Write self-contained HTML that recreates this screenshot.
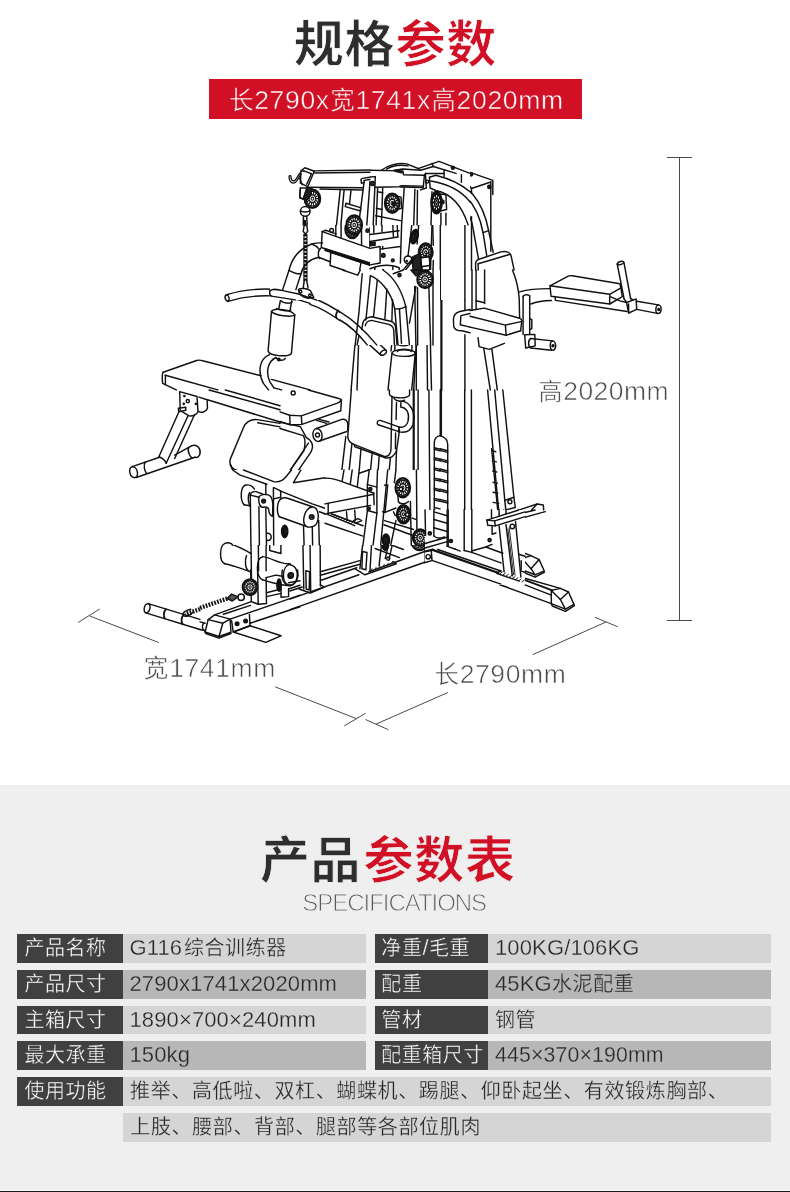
<!DOCTYPE html>
<html lang="zh"><head><meta charset="utf-8"><title>规格参数</title>
<style>
html,body{margin:0;padding:0}
body{width:790px;height:1192px;position:relative;overflow:hidden;background:#fff;font-family:"Liberation Sans",sans-serif}
.abs{position:absolute}
.gray{left:0;top:785px;width:790px;height:407px;background:#efefef}
.bar{left:209px;top:79px;width:373px;height:39.7px;background:#d11026}
.lab{background:#404040;height:28.8px}
.v1{background:#d5d5d5;height:28.8px}
.v2{background:#b7b7b7;height:28.8px}
.ct{display:block;color:transparent;font-size:14px;line-height:28px;padding-left:7px;white-space:nowrap;overflow:hidden}
.tx{position:absolute;color:transparent;white-space:nowrap;margin:0;line-height:1;overflow:hidden}
svg{position:absolute;left:0;top:0;will-change:transform}
svg text{font-family:"Liberation Sans","Noto Sans CJK SC",sans-serif}
</style></head><body>
<div class="abs gray"></div>
<div class="abs" style="left:0;top:1190px;width:790px;height:1px;background:#fafafa"></div>
<div class="abs" style="left:0;top:1191px;width:790px;height:1px;background:#1c1c1c"></div>
<div class="abs bar"></div>
<div class="table">
<div class="abs lab" style="left:17px;top:933.9px;width:106px"><span class="ct">产品名称</span></div><div class="abs v1" style="left:123px;top:933.9px;width:243px"><span class="ct">G116综合训练器</span></div><div class="abs lab" style="left:375px;top:933.9px;width:113px"><span class="ct">净重/毛重</span></div><div class="abs v1" style="left:488px;top:933.9px;width:283px"><span class="ct">100KG/106KG</span></div>
<div class="abs lab" style="left:17px;top:969.8px;width:106px"><span class="ct">产品尺寸</span></div><div class="abs v2" style="left:123px;top:969.8px;width:243px"><span class="ct">2790x1741x2020mm</span></div><div class="abs lab" style="left:375px;top:969.8px;width:113px"><span class="ct">配重</span></div><div class="abs v2" style="left:488px;top:969.8px;width:283px"><span class="ct">45KG水泥配重</span></div>
<div class="abs lab" style="left:17px;top:1005.5px;width:106px"><span class="ct">主箱尺寸</span></div><div class="abs v1" style="left:123px;top:1005.5px;width:243px"><span class="ct">1890×700×240mm</span></div><div class="abs lab" style="left:375px;top:1005.5px;width:113px"><span class="ct">管材</span></div><div class="abs v1" style="left:488px;top:1005.5px;width:283px"><span class="ct">钢管</span></div>
<div class="abs lab" style="left:17px;top:1041.2px;width:106px"><span class="ct">最大承重</span></div><div class="abs v2" style="left:123px;top:1041.2px;width:243px"><span class="ct">150kg</span></div><div class="abs lab" style="left:375px;top:1041.2px;width:113px"><span class="ct">配重箱尺寸</span></div><div class="abs v2" style="left:488px;top:1041.2px;width:283px"><span class="ct">445×370×190mm</span></div>
<div class="abs lab" style="left:17px;top:1077.1px;width:106px"><span class="ct">使用功能</span></div><div class="abs v1" style="left:123px;top:1077.1px;width:648px"><span class="ct">推举、高低啦、双杠、蝴蝶机、踢腿、仰卧起坐、有效锻炼胸部、</span></div>
<div class="abs v1" style="left:123px;top:1113.1px;width:648px"><span class="ct">上肢、腰部、背部、腿部等各部位肌肉</span></div>
</div>

<svg width="790" height="1192" viewBox="0 0 790 1192" fill="none" stroke="#111" stroke-width="1.45" stroke-linecap="round" stroke-linejoin="round">
<g stroke="#4a4a4a" stroke-width="1" stroke-linecap="butt"><path d="M667 157.5H692M667 620.5H692M679.5 157.5V620.5"/><path d="M78.3 622.4L99.7 609M89.8 616L158.9 642.6M275.3 686.9L356.8 718.8M344.3 725.9L365.5 713.3"/><path d="M365.5 719.5L388.3 729.7M376.2 724L447.9 692.5M532.8 654.6L606 622M595 617.3L617.8 626.8"/></g>
<!-- A1 -->
<path d="M 304.6 167.6 L 314.2 171.1 L 399.6 172.3"/>
<path d="M 304.6 167.6 L 300.8 170.9 L 299 182.4 L 307.3 186.1 L 314.2 171.1"/>
<path d="M 303.4 170.3 L 311.5 172.9 L 306.1 183.4"/>
<path d="M 300.8 170.9 L 303.4 170.3"/>
<path d="M 313.5 169.2 L 383.4 170.3 L 391.5 168.6"/>
<path d="M 309.5 187.7 L 399.6 188.9"/>
<path d="M 317 186.5 L 399.6 187.7"/>
<path stroke-width="1.6" d="M 289.4 176.3 C 288.6 180.4 290.3 184 293.3 182.4 C 295.9 180.4 298.4 177.3 300.4 174.7"/>
<path d="M 300.4 174.7 L 302.4 182.4"/>
<g transform="translate(312.5 199.6) rotate(0) scale(1 1.333)"><circle r="6.7" fill="#fff" stroke-width="2.1"/><circle r="5.3" stroke-width="1"/><path d="M2.8 0L5.3 0M2.5 1.2L4.8 2.3M1.8 2.2L3.3 4.2M0.6 2.7L1.2 5.2M-0.6 2.7L-1.2 5.2M-1.8 2.2L-3.3 4.2M-2.5 1.2L-4.8 2.3M-2.8 0L-5.3 0M-2.5 -1.2L-4.8 -2.3M-1.8 -2.2L-3.3 -4.2M-0.6 -2.7L-1.2 -5.2M0.6 -2.7L1.2 -5.2M1.8 -2.2L3.3 -4.2M2.5 -1.2L4.8 -2.3" stroke-width="1.05"/><circle r="2.8" fill="#fff" stroke-width="1.2"/><circle r="1.1" stroke-width="1"/></g>
<path d="M 302.4 184.4 L 300.4 196.6 L 304.4 199.6"/>
<path d="M 307.5 186.5 L 305.4 198.6"/>
<circle cx="304.8" cy="210.8" r="4.3" fill="#fff"/>
<path d="M 300.8 209.9 C 302.4 211.6 307.3 211.6 308.9 209.9"/>
<path d="M 303.6 215.2 L 303.6 219.9 M 306.1 215.2 L 306.1 219.9"/>
<path d="M 304.8 219.9 L 303 228 L 304.8 236.1 L 306.7 228 Z"/>
<path d="M 304.8 220.9 L 304.8 235.1"/>
<path stroke-width="2.2" d="M 304.8 236.1 L 304.8 240.1 M 305.6 241.1 L 305.6 245.2 M 304.8 246.2 L 304.8 250.3 M 305.6 251.3 L 305.6 255.3 M 304.8 256.3 L 304.8 260.4 M 305.6 261.4 L 305.6 265.4 M 304.8 266.5 L 304.8 269.9"/>
<path stroke-width="1.0" d="M 303.8 237.1 L 303.8 269.9 M 306.7 237.1 L 306.7 269.9"/>
<path d="M 339.9 189.5 L 335.4 236.1"/>
<path d="M 344.5 189.5 L 340.9 237.1"/>
<path d="M 348 189.5 L 345.3 228"/>
<path d="M 345.3 202.3 L 360.1 206.7 L 360.1 210.8 L 345.3 206.3 Z"/>
<path d="M 360.5 180.4 L 364.2 177.9 L 371.3 177.3 L 375.3 179.4"/>
<path d="M 360.5 180.4 L 358.5 244.2"/>
<path d="M 365.2 180.8 L 360.5 180.4"/>
<path d="M 365.2 180.8 L 375.3 179.4"/>
<path d="M 365.2 180.8 L 363.2 245.2"/>
<path d="M 370.7 183.4 L 368.2 240.1"/>
<circle cx="372.9" cy="184.4" r="1.8" fill="#333"/>
<circle cx="366.8" cy="231.4" r="1.6" fill="#333"/>
<g transform="translate(354.1 227) rotate(0) scale(1 1.455)"><circle r="6.7" fill="#fff" stroke-width="2.1"/><circle r="5.3" stroke-width="1"/><path d="M2.8 0L5.3 0M2.5 1.2L4.8 2.3M1.8 2.2L3.3 4.2M0.6 2.7L1.2 5.2M-0.6 2.7L-1.2 5.2M-1.8 2.2L-3.3 4.2M-2.5 1.2L-4.8 2.3M-2.8 0L-5.3 0M-2.5 -1.2L-4.8 -2.3M-1.8 -2.2L-3.3 -4.2M-0.6 -2.7L-1.2 -5.2M0.6 -2.7L1.2 -5.2M1.8 -2.2L3.3 -4.2M2.5 -1.2L4.8 -2.3" stroke-width="1.05"/><circle r="2.8" fill="#fff" stroke-width="1.2"/><circle r="1.1" stroke-width="1"/></g>
<path d="M 375.3 189.5 L 372.3 239.1"/>
<path d="M 380.4 189.5 L 376.9 235.1"/>
<path d="M 379.4 196.6 L 391.5 193.5"/>
<path d="M 375.3 216.8 L 399.6 209.7"/>
<path d="M 371.3 231 L 399.6 222.9"/>
<path d="M 369.2 237.1 L 399.6 230"/>
<path d="M 369.2 240.1 L 399.6 233.4"/>
<path d="M 399.6 219.9 L 399.6 235.1"/>
<path d="M 396.6 220.9 L 396.6 231"/>
<g transform="translate(392.1 203.7) rotate(0) scale(1 1.222)"><circle r="7.3" fill="#fff" stroke-width="2.1"/><circle r="5.8" stroke-width="1"/><path d="M3.1 0L5.8 0M2.8 1.3L5.3 2.5M1.9 2.4L3.6 4.6M0.7 3L1.3 5.7M-0.7 3L-1.3 5.7M-1.9 2.4L-3.6 4.6M-2.8 1.3L-5.3 2.5M-3.1 0L-5.8 0M-2.8 -1.3L-5.3 -2.5M-1.9 -2.4L-3.6 -4.6M-0.7 -3L-1.3 -5.7M0.7 -3L1.3 -5.7M1.9 -2.4L3.6 -4.6M2.8 -1.3L5.3 -2.5" stroke-width="1.05"/><circle r="3.1" fill="#fff" stroke-width="1.2"/><circle r="1.2" stroke-width="1"/></g>
<path d="M 391.5 193.5 L 401.6 195.6 L 399.6 210.8 L 391.5 213.8"/>
<circle cx="394.6" cy="203.7" r="1.4" fill="none"/>
<path d="M 402.7 189.5 L 399.6 269.9"/>
<path d="M 409.7 189.5 L 407.7 255.3"/>
<path d="M 414.8 189.5 L 411.8 253.3"/>
<path d="M 399.6 172.3 L 399.6 188.9"/>
<path d="M 399.6 188.9 L 425.9 190.1 L 425.9 174.3 L 399.6 172.3"/>
<path d="M 383.4 170.3 C 389.5 164.2 399.6 163.2 411.8 165.2"/>
<path d="M 391.5 168.6 L 401.6 170.3 L 411.8 168.6 L 419.9 170.3 L 430 164.6"/>
<path d="M 401.6 170.3 L 403.7 174.3 L 411.8 173.3"/>
<circle cx="427" cy="182" r="1.2" fill="none"/>
<path d="M 425.9 174.3 L 430 173.9 M 425.9 190.1 L 430 190.1"/>
<path d="M 323.1 230.6 L 328.7 228 L 336.8 235.1"/>
<path d="M 323.1 230.6 L 320.6 241.1 L 370.3 263.4 L 373.3 249.2 L 323.1 230.6"/>
<path d="M 373.3 249.2 L 381.4 246.2 L 383.4 241.1"/>
<path d="M 370.3 263.4 L 380.4 260.4 L 381.4 246.2"/>
<path d="M 328.7 228 L 358.5 239.1"/>
<circle cx="331.8" cy="230.6" r="2" fill="#fff"/>
<circle cx="372.3" cy="244.6" r="2" fill="#fff"/>
<circle cx="383.4" cy="255.3" r="1.8" fill="none"/>
<circle cx="392.5" cy="260.4" r="1.4" fill="#333"/>
<path d="M 380.4 260.4 L 395.6 265.4 L 399.6 255.3"/>
<path d="M 290.3 269.9 C 292.3 255.3 302.4 247.2 313.5 243.2 L 321.6 242.2"/>
<path d="M 311.5 269.9 C 311.5 259.4 315.6 251.3 323.1 249.2"/>
<path d="M 317.6 269.9 C 317.6 259.4 320.6 255.3 328.7 251.3"/>
<path d="M 323.1 249.2 L 330.8 252.3 L 330.8 263.4 L 365.2 269.9"/>
<path d="M 330.8 252.3 L 367.2 266.5"/>
<g transform="translate(424.9 252.3) rotate(0) scale(1 1.316)"><circle r="7.7" fill="#fff" stroke-width="2.1"/><circle r="6.2" stroke-width="1"/><path d="M3.2 0L6.2 0M2.9 1.4L5.5 2.7M2 2.5L3.8 4.8M0.7 3.2L1.4 6M-0.7 3.2L-1.4 6M-2 2.5L-3.8 4.8M-2.9 1.4L-5.5 2.7M-3.2 0L-6.2 0M-2.9 -1.4L-5.5 -2.7M-2 -2.5L-3.8 -4.8M-0.7 -3.2L-1.4 -6M0.7 -3.2L1.4 -6M2 -2.5L3.8 -4.8M2.9 -1.4L5.5 -2.7" stroke-width="1.05"/><circle r="3.2" fill="#fff" stroke-width="1.2"/><circle r="1.2" stroke-width="1"/></g>
<g transform="translate(414.8 237.1) rotate(0) scale(1 1.944)"><circle r="3.6" fill="#fff" stroke-width="2.1"/><circle r="2.9" stroke-width="1"/><path d="M1.5 0L2.9 0M1.2 0.9L2.4 1.7M0.5 1.5L0.9 2.8M-0.5 1.5L-0.9 2.8M-1.2 0.9L-2.4 1.7M-1.5 0L-2.9 0M-1.2 -0.9L-2.4 -1.7M-0.5 -1.5L-0.9 -2.8M0.5 -1.5L0.9 -2.8M1.2 -0.9L2.4 -1.7" stroke-width="1.05"/><circle r="1.5" fill="#fff" stroke-width="1.2"/><circle r="0.6" stroke-width="1"/></g>
<path d="M 409.7 269.9 L 419.9 255.3"/>
<path d="M 405.7 259.4 L 411.8 255.3 L 409.7 263.4 Z"/>
<path d="M 415.8 220.9 L 418.9 225.9 L 415.8 235.1"/>
<!-- A2 -->
<path d="M 430 164.6 L 438.1 161.1 L 492.8 180.4 L 492.8 194.6"/>
<path d="M 430 164.6 L 430 166.6 L 434.5 167.2"/>
<path d="M 434.5 167.2 L 445.2 172.7 L 461.4 175.3 L 471.5 188.5 L 490.8 182"/>
<path d="M 461.4 175.3 L 461.4 182.4"/>
<path d="M 471.5 188.5 L 471.5 193.5"/>
<circle cx="452.7" cy="167.8" r="1.6" fill="none"/>
<circle cx="471.1" cy="174.3" r="1.6" fill="none"/>
<circle cx="489.3" cy="186.9" r="1.6" fill="none"/>
<circle cx="452.7" cy="167.8" r="0.6" fill="#333"/>
<circle cx="471.1" cy="174.3" r="0.6" fill="#333"/>
<circle cx="489.3" cy="186.9" r="0.6" fill="#333"/>
<path d="M 490.8 182 L 490.8 251.3"/>
<path d="M 430 173.9 L 444.2 172.7"/>
<path stroke-width="2.0" d="M 430 171.9 L 442.2 170.3"/>
<path d="M 430 176.7 L 441.1 176.3 C 466.5 180.4 483.1 200.6 488.7 231 L 493.2 252.3"/>
<path d="M 432 180.8 C 460.4 184.4 477.6 202.7 483.1 233 L 486.7 255.3"/>
<path d="M 439.1 189.5 C 458.4 193.5 470.5 208.7 473.5 231 L 478.6 259.4"/>
<path d="M 430 182.4 L 439.1 189.5"/>
<path d="M 483.1 232.6 L 488.7 230.6"/>
<path d="M 464.4 203.7 L 464.4 269.9"/>
<path d="M 471.5 216.8 L 471.5 269.9"/>
<path d="M 440.1 210.8 L 440.1 269.9"/>
<path d="M 436.1 210.8 L 436.1 247.2"/>
<g transform="translate(436.5 201.6) rotate(0) scale(1 2.250)"><circle r="4.1" fill="#fff" stroke-width="2.1"/><circle r="3.2" stroke-width="1"/><path d="M1.7 0L3.2 0M1.4 1L2.6 1.9M0.5 1.6L1 3.1M-0.5 1.6L-1 3.1M-1.4 1L-2.6 1.9M-1.7 0L-3.2 0M-1.4 -1L-2.6 -1.9M-0.5 -1.6L-1 -3.1M0.5 -1.6L1 -3.1M1.4 -1L2.6 -1.9" stroke-width="1.05"/><circle r="1.7" fill="#fff" stroke-width="1.2"/><circle r="0.6" stroke-width="1"/></g>
<path d="M 439.1 195 L 448.2 196.6 L 447.2 209.1 L 439.1 211.2"/>
<circle cx="442.2" cy="202.3" r="1.8" fill="none"/>
<path d="M 475.6 269.9 L 475.6 263.4 C 475.6 260.4 477.6 259.4 480.6 258.8 L 500.9 251.9 C 507 250.9 510 252.3 511 255.3 L 514.1 269.9"/>
<path d="M 478.2 263.8 L 509.4 254.5"/>
<path d="M 478.2 263.8 L 478.2 269.9"/>
<path d="M 430 247.2 C 432 251.3 432 257.3 430 260.4"/>
<!-- B1 -->
<path d="M 226.6 294.7 C 241.1 290.3 257.3 288.6 271.5 289.2 C 287.7 290.3 299.9 292.3 310 295.9"/>
<path d="M 228 301.4 C 241.1 297.3 257.3 295.3 271.5 295.9 C 287.7 297.3 299.9 299.4 310 303.4"/>
<path d="M 226.6 294.7 C 223.9 296.3 224.9 300.4 228 301.4 C 230 300 229.4 295.9 226.6 294.7"/>
<path stroke-width="2.0" d="M 271.5 289.2 C 269.9 291.3 269.9 294.3 271.5 295.9"/>
<path d="M 289.7 270 L 283.1 289.2 M 281.2 296.7 L 278.8 308.5"/>
<path d="M 300.9 270 L 294.2 291.3 M 291.8 300.8 L 290.2 309.5"/>
<path d="M 280.6 300.4 C 283.7 303.4 289.7 304 292.2 302"/>
<path d="M 271.5 311.5 L 268.1 351 C 269.5 356.1 287.7 357.5 291.4 353.4 L 294.8 315"/>
<path d="M 271.5 311.5 C 273.5 307.5 291.8 309.5 294.8 315 C 291.8 317.6 274.6 315.6 271.5 311.5"/>
<path d="M 276.6 308.5 C 279.6 310.5 287.7 311.5 290.8 310.1"/>
<path d="M 276 357.5 C 277.6 361.1 283.7 361.1 285.3 358.3"/>
<circle cx="278.8" cy="359.5" r="1.2" fill="#333"/>
<path d="M 269.5 354.7 C 259.4 359.1 257.3 371.3 263.4 383.4 L 268.5 389.9"/>
<path d="M 276 357.5 C 267.1 361.5 265.8 373.3 269.9 381.8 L 273.9 387.9"/>
<path d="M 163.2 372.3 L 196.6 360.5 C 198.6 359.9 200.6 360.1 202.7 360.7 L 261 375.7"/>
<path d="M 163.2 372.3 C 161.7 373.7 162.2 377.3 162.6 383.4 L 176.3 389.9"/>
<path d="M 165.4 375.3 L 165.4 384.6"/>
<path d="M 165.4 375.3 L 217.8 389.9"/>
<path d="M 271.5 379.4 L 310 389.9"/>
<path d="M 273.9 387.9 L 281.6 389.9"/>
<path d="M 304.3 270 L 305.9 289.2"/>
<path d="M 307 270 L 308.6 289.2"/>
<circle cx="300.3" cy="291.3" r="1.6" fill="none"/>
<path d="M 301.9 289.2 L 310 292.3"/>
<path stroke-width="2.0" d="M 305.5 278.1 L 306.4 288.2"/>
<!-- B2 -->
<path d="M 310 297.3 C 334.3 304.4 360.6 326.7 385.9 350 C 388 352 383.9 356.1 380.9 355.1 C 378.9 353 382.9 349.4 385.9 350"/>
<path d="M 310 304.4 C 332.3 311.5 356.6 332.8 380.9 355.1"/>
<path stroke-width="1.8" d="M 338.4 310.5 C 335.9 312.5 335.3 316.2 336.7 318.2"/>
<circle cx="310" cy="295.3" r="2.4" fill="none"/>
<path d="M 360.6 275.1 L 357 319.6 M 355.6 336.8 L 351.1 389.9"/>
<path d="M 364.7 276.1 L 361.6 320.6"/>
<path d="M 370.8 277.7 L 366.7 317.8"/>
<path d="M 376.8 279.1 L 373.6 317"/>
<path d="M 388 287.2 L 386.6 318.6"/>
<path d="M 358.6 342.9 L 357 389.9"/>
<path d="M 361.6 328.7 C 361.6 321.6 363.7 317.6 368.7 317 L 390 319.6 C 394.1 320.6 396.1 323.1 396.1 328.7 L 394.7 350"/>
<path d="M 361.6 328.7 L 360.2 339.9"/>
<path d="M 365.7 329.1 C 365.7 324.3 367.7 322.3 370.8 321.8 L 389 324.3 C 392 325.1 393.4 327.1 393 331.8 L 391 351"/>
<path d="M 388 270 C 399.1 280.1 405.2 294.3 406.2 308.5 L 409.2 343.9"/>
<path d="M 375.2 270 L 379.9 276.1 C 389 284.2 394.1 296.3 395.1 308.5 L 399.1 344.9"/>
<path d="M 381.3 270 C 395.1 282.2 400.1 296.3 401.1 309.5"/>
<path d="M 395.1 308.5 C 399.1 310.5 403.2 310.1 406.2 308.5"/>
<path d="M 399.1 344.9 C 402.2 346.6 407.2 345.9 409.2 343.9"/>
<path d="M 358.6 270 L 358.6 274.5 L 374.8 279.1 L 375.2 270"/>
<path d="M 342.4 270 L 358.6 274.5"/>
<path d="M 392 353 C 393 348.6 413.7 348.6 415.3 353 C 414.3 357.5 394.1 357.5 392 353"/>
<path d="M 397.5 351.4 C 399.5 348.6 408.8 348.6 410.9 351.4"/>
<path d="M 392 353 L 388 389.9"/>
<path d="M 415.3 353 L 411.7 389.9"/>
<path d="M 416.3 289.2 L 416.3 389.9"/>
<path d="M 412.9 276.1 L 411.9 351"/>
<path d="M 429.1 288.2 L 431.5 389.9"/>
<path stroke-width="2.2" d="M 441.4 270 L 441.4 389.9"/>
<path d="M 464.9 270 L 464.9 309.5 M 464.9 334.8 L 464.9 389.9"/>
<path d="M 410.7 290.3 L 408.8 336.8"/>
<path d="M 415.3 289.2 L 406.8 337.8"/>
<path d="M 419.4 289.2 L 413.7 389.9"/>
<path d="M 426.5 289.2 L 427.5 389.9"/>
<g transform="translate(423.8 279.7) rotate(0) scale(1 1.167)"><circle r="7.3" fill="#fff" stroke-width="2.1"/><circle r="5.8" stroke-width="1"/><path d="M3.1 0L5.8 0M2.8 1.3L5.3 2.5M1.9 2.4L3.6 4.6M0.7 3L1.3 5.7M-0.7 3L-1.3 5.7M-1.9 2.4L-3.6 4.6M-2.8 1.3L-5.3 2.5M-3.1 0L-5.8 0M-2.8 -1.3L-5.3 -2.5M-1.9 -2.4L-3.6 -4.6M-0.7 -3L-1.3 -5.7M0.7 -3L1.3 -5.7M1.9 -2.4L3.6 -4.6M2.8 -1.3L5.3 -2.5" stroke-width="1.05"/><circle r="3.1" fill="#fff" stroke-width="1.2"/><circle r="1.2" stroke-width="1"/></g>
<path d="M 415.3 270 L 415.3 282.2 L 423.4 290.3 L 431.5 284.2 L 431.5 270"/>
<circle cx="400.1" cy="275.1" r="2" fill="none"/>
<path d="M 391 270 L 403.2 278.1 L 407.2 270"/>
<path d="M 470 309.5 L 459.9 311.5 C 454.8 312.9 453.4 315.6 453.4 319.6 L 453.8 326.7 C 454.8 329.7 457.8 330.8 461.9 330.8 L 470 332.8"/>
<path d="M 470 313.5 L 460.9 315.6 L 460.3 324.7 L 470 327.1"/>
<!-- B3 -->
<path d="M 472 270 L 472 310.5"/>
<path d="M 476.1 270 L 476.1 309.5"/>
<path d="M 484.6 270 L 484.6 303.4"/>
<path d="M 476.1 300.8 L 484.6 302.8"/>
<path d="M 512.5 270 C 516.6 280.1 518.6 290.3 519.2 298.4 L 519.6 317.8"/>
<path d="M 470 310.5 L 484.2 308.1 L 519.6 318.2 C 521.6 319 522.3 320.6 521.6 322.7 L 520.6 330.8"/>
<path d="M 470 316.2 L 505.4 325.1 L 521 321.6"/>
<path d="M 505.4 325.1 L 506.1 335.2"/>
<path d="M 470 327.1 L 506.1 335.2 L 520.6 330.8"/>
<path d="M 478.1 337.8 L 479.1 346.6 L 489.2 349.4 L 504.4 343.3"/>
<path d="M 483.8 348.6 L 490.3 389.9"/>
<path d="M 491.9 349.4 L 497.3 389.9"/>
<path d="M 519.6 291.9 C 528.7 289.2 538.9 288.6 550 288.6"/>
<path d="M 530.8 304 C 536.8 301.4 544.9 300.4 551.4 300.4"/>
<path d="M 523.1 296.3 L 523.1 334.4 M 529.7 295.9 L 529.7 334.4"/>
<path d="M 523.1 296.3 C 524.3 294.3 528.7 294.3 529.7 295.9"/>
<path d="M 529.7 318.6 L 531.8 319.6 L 531.8 328.7 L 529.7 329.7"/>
<path d="M 524.7 334.8 L 534.8 334.4 L 535.2 345.9 L 525.7 348 Z"/>
<path d="M 530.8 338.5 L 552.6 340.9 M 530.8 348 L 551.4 350.2"/>
<path d="M 530.8 338.5 C 527.9 339.9 527.9 346.6 530.8 348"/>
<path d="M 552.6 340.9 C 556.1 341.3 557.1 349 553 350.2 C 549.4 349.8 549.4 341.9 552.6 340.9"/>
<circle cx="553" cy="345.7" r="1" fill="#333"/>
<path d="M 550 285.8 L 568.2 276.1 C 569.2 275.5 570.3 275.5 572.3 275.7 L 619.9 283.8 L 620.9 287.8 L 609.7 294.3 L 550 285.8"/>
<path d="M 550 285.8 L 551 296.3 L 609.7 304 L 609.7 294.3"/>
<path d="M 609.7 304 L 622.3 296.7 L 620.9 287.8"/>
<path d="M 555.1 297.3 L 555.5 300.4 L 627 311.5"/>
<!-- B4 -->
<path d="M 617.2 264 L 624.1 298.9"/>
<path d="M 623.9 262.4 L 630.6 298.5"/>
<path d="M 617.2 264 C 617.8 261.4 622.9 260.4 623.9 262.4 C 623.3 264.4 618.5 265.4 617.2 264"/>
<path d="M 626.6 302.5 L 636.1 298.9 L 636.7 309.4 L 628.6 313 Z"/>
<path d="M 628.6 303.9 L 628.6 313"/>
<path d="M 636.7 301.3 L 658.4 304.9 M 636.7 309.4 L 657.3 313.4"/>
<path d="M 658.4 304.9 C 661.8 305.3 662.4 313 657.9 313.6 C 654.9 313 655.3 305.3 658.4 304.9"/>
<circle cx="658.8" cy="309.4" r="1" fill="#333"/>
<path d="M 624.1 298.9 L 626.6 302.5 M 630.6 298.5 L 633 299.9"/>
<path d="M 610.8 296.8 L 619.9 300.9 L 626.6 302.5"/>
<!-- C1 -->
<path d="M 209.1 390 L 280 409.8"/>
<path d="M 225.3 390 L 280 405.8"/>
<path d="M 207.5 399.7 L 280 422"/>
<path d="M 179.7 391.6 L 197 396.5 L 198 411.9 C 195.9 415.3 191.9 416.3 188.9 415.9 L 180.2 410.3 Z"/>
<circle cx="187.8" cy="401.1" r="1.6" fill="none"/>
<circle cx="183.8" cy="403.8" r="0.6" fill="#333"/>
<circle cx="195.9" cy="403.8" r="0.6" fill="#333"/>
<circle cx="184.4" cy="396.1" r="0.6" fill="#333"/>
<path d="M 199 397.1 L 207.1 399.7 L 207.5 408.2 C 206.1 412.3 201 413.3 198.6 411.3"/>
<path d="M 178.3 408.2 L 185.8 407.2 L 185.8 410.3 L 178.7 411.9 Z"/>
<path d="M 178.7 412.3 L 158.9 456.8"/>
<path d="M 187.8 416.3 L 166.2 463.3"/>
<path d="M 194.5 414.7 L 174.7 458.5"/>
<path d="M 158.9 456.8 C 161.5 457.8 165 459.9 166.2 463.3"/>
<path d="M 132.2 466.6 L 159.5 457.2"/>
<path d="M 174.7 455.2 L 191.9 445.7"/>
<path d="M 136.2 477.5 L 194.9 457.2"/>
<path d="M 132.2 466.6 C 128.1 468 129.1 477.1 134.6 477.7 C 139.2 476.7 138.2 467 132.2 466.6"/>
<path d="M 191.9 445.7 C 197 443.7 201 448.7 200 453.8 C 199 457.8 195.9 457.8 194.9 457.2"/>
<path d="M 145.3 461.9 C 143.3 464.9 144.3 471 146.7 473.6"/>
<path d="M 188.9 447.3 C 186.8 450.8 189.9 456.8 192.3 458.1"/>
<path d="M 280 423.4 L 255.7 419.4 C 249.6 419.4 245.6 422.4 243.5 427.5 L 230.4 458.9 C 229 463.9 230.4 467 234.4 469.4 L 272.9 483.6 L 280 482.2"/>
<path d="M 231 465.3 C 231.4 470 233.4 472 237.5 473.4 L 272.9 487.2 L 272.9 483.6"/>
<path d="M 272.9 487.2 L 280 486.2"/>
<path d="M 280 426.9 L 257.7 422.8"/>
<path d="M 249.6 485.2 C 243.5 487.2 239.5 495.3 241.5 503.4 L 243.5 509.9"/>
<path d="M 254.1 486.4 C 248.6 489.2 246.6 497.3 249 505.8"/>
<path d="M 251.6 493.3 L 259.7 490.3 L 274.3 495.3 L 274.3 509.9"/>
<path d="M 251.6 493.3 L 251.6 509.9"/>
<circle cx="263.8" cy="501.4" r="1.6" fill="none"/>
<path d="M 265.8 484.8 L 265.8 491.3"/>
<path d="M 274.3 487.6 L 274.3 495.3"/>
<path stroke-width="2.2" d="M 261.8 497.3 C 257.7 499.4 259.7 507.5 265.8 505.8 L 269.9 509.9"/>
<path d="M 259.7 490.3 L 259.7 509.9"/>
<!-- C2 -->
<path d="M 280 411.9 L 289.7 415.3 L 301.3 415.9 L 338.7 402.6 L 341.4 400.1"/>
<path d="M 289.7 415.3 L 290.1 424.8 L 301.9 424.4 L 340.8 410.7 L 341.4 400.1"/>
<path d="M 301.3 415.9 L 301.9 424.4"/>
<path d="M 280 421.4 L 290.1 424.8"/>
<path d="M 308.4 390 L 338.7 398.5 C 340.8 398.9 341.6 399.7 341.4 400.1"/>
<circle cx="293.2" cy="393" r="2" fill="none"/>
<path d="M 316.5 428.5 L 341.8 419.4 C 345.8 418.8 347.8 421.4 347.8 424.4 L 347.8 430.5"/>
<path d="M 319.5 441 L 346.8 431.5"/>
<path d="M 316.5 428.5 C 311.4 429.5 311.4 440.6 318.5 441.6 C 323.5 440.6 323.5 429.5 316.5 428.5"/>
<circle cx="317.5" cy="435" r="2" fill="none"/>
<path d="M 316.5 420.4 L 326.6 423.4 M 318.9 419.4 L 329 422"/>
<path d="M 280 422.4 L 300.3 426.5 L 306.3 437.6 C 312.4 440.6 314.4 446.7 310.4 452.8 L 288.1 485.2 L 280 491.3"/>
<path d="M 280 428.5 L 303.3 435.6 C 305.3 438.6 305.3 444.7 303.9 450.8 L 283 480.1 L 280 481.5"/>
<path d="M 308.4 443.1 L 286.1 476.7"/>
<path d="M 280 489.6 L 292.2 482.4 L 327.6 478.1 L 372.2 492.9 L 373.6 497.3 L 329.6 503.8 L 282 490.9"/>
<path d="M 329.6 503.8 L 329 509.9"/>
<path d="M 280 498.4 L 310.4 507.5"/>
<path d="M 373.6 497.3 L 372.8 509.9"/>
<path d="M 351.3 390 L 347.8 436.2 C 347.8 440.6 349.9 442.7 353.9 444.3 L 384.3 456.4 C 388.4 457.2 391 453.8 391 448.7 L 392 396.1"/>
<path d="M 385.3 457.8 C 391.4 458.9 394.4 455.8 396.5 450.8 L 399.5 430.5"/>
<path d="M 353.9 444.3 L 354.9 446.7 L 385.3 457.8"/>
<path d="M 401.5 401.1 C 411.6 402.2 416.1 414.3 413.1 424.4 C 411 430.5 405.6 432.9 399.5 431.9 L 378.2 424.8 C 376.4 423.4 377.2 420 380.3 420.4 L 399.5 427.1 C 403.5 427.5 406.6 426.5 408 421.4 C 409.6 414.3 407.6 408.2 401.5 407.2"/>
<path stroke-width="1.8" d="M 399.1 427.1 L 398.7 431.9"/>
<path d="M 389.4 390 L 389.4 394.1 C 390.4 398.5 406.6 399.3 409.6 395.1 L 409.6 390"/>
<path d="M 393.8 398.1 C 395.8 401.3 401.5 402.2 404.6 400.1"/>
<path d="M 396.5 402.6 L 396.1 419.4 M 395.6 432.9 L 395.4 448.7"/>
<path d="M 400.9 402.6 L 400.7 407"/>
<path d="M 345.8 436.6 L 340.8 479.1"/>
<path d="M 351.9 443.7 L 347.8 483.2"/>
<path d="M 361 448.7 L 358 485.2"/>
<path d="M 372.2 452.8 L 369.1 485.2"/>
<path d="M 379.2 455.8 L 375.2 509.9"/>
<path d="M 390.4 457.8 L 385.3 509.9"/>
<path d="M 358 475.1 L 369.1 470"/>
<path stroke-width="2.2" d="M 413.7 390 L 413.7 509.9"/>
<path d="M 418.1 390 L 418.1 509.9"/>
<path d="M 428.9 390 L 429.9 509.9"/>
<path d="M 396.5 450.8 L 394.4 509.9"/>
<path d="M 440 435.6 C 435.9 436.6 434.3 438.6 434.3 442.7 L 434.3 509.9"/>
<path d="M 434.3 447.7 L 440 449.1 M 434.3 457.8 L 440 459.3 M 434.3 468 L 440 469.4 M 434.3 478.1 L 440 479.5 M 434.3 488.2 L 440 489.6 M 434.3 498.4 L 440 499.8 M 434.3 507.5 L 440 508.9"/>
<path d="M 434.3 449.3 L 440 450.8 M 434.3 459.5 L 440 460.9 M 434.3 469.6 L 440 471 M 434.3 479.7 L 440 481.1 M 434.3 489.8 L 440 491.3 M 434.3 500 L 440 501.4"/>
<g transform="translate(403.5 488.2) rotate(0) scale(1 1.111)"><circle r="7.3" fill="#fff" stroke-width="2.1"/><circle r="5.8" stroke-width="1"/><path d="M3.1 0L5.8 0M2.8 1.3L5.3 2.5M1.9 2.4L3.6 4.6M0.7 3L1.3 5.7M-0.7 3L-1.3 5.7M-1.9 2.4L-3.6 4.6M-2.8 1.3L-5.3 2.5M-3.1 0L-5.8 0M-2.8 -1.3L-5.3 -2.5M-1.9 -2.4L-3.6 -4.6M-0.7 -3L-1.3 -5.7M0.7 -3L1.3 -5.7M1.9 -2.4L3.6 -4.6M2.8 -1.3L5.3 -2.5" stroke-width="1.05"/><circle r="3.1" fill="#fff" stroke-width="1.2"/><circle r="1.2" stroke-width="1"/></g>
<path d="M 396.5 491.3 L 398.5 501 L 409.6 503.8 L 411.6 491.3"/>
<circle cx="370.1" cy="488.6" r="1.6" fill="none"/>
<path d="M 367.1 485.2 L 377.2 487.2 L 376.2 509.9"/>
<!-- C3 -->
<path d="M 440 435.6 C 445.1 437 447.7 439.6 447.7 444.7 L 447.7 509.9"/>
<path d="M 440 448.7 L 447.7 450.8 M 440 458.9 L 447.7 460.9 M 440 469 L 447.7 471 M 440 479.1 L 447.7 481.1 M 440 489.2 L 447.7 491.3 M 440 499.4 L 447.7 501.4"/>
<path d="M 440 450.4 L 447.7 452.4 M 440 460.5 L 447.7 462.5 M 440 470.6 L 447.7 472.6 M 440 480.7 L 447.7 482.8 M 440 490.9 L 447.7 492.9 M 440 501 L 447.7 503"/>
<path stroke-width="2.5" d="M 440.8 390 L 440.8 435.6"/>
<path d="M 464.7 390 L 464.7 509.9"/>
<path d="M 471.4 390 L 471.4 509.9"/>
<path d="M 487.6 390 L 497.7 500.4"/>
<path d="M 494.7 390 L 504.8 500.4"/>
<path d="M 502.8 390 L 513.9 497.3"/>
<path d="M 491.6 448.7 L 497.7 509.9"/>
<path d="M 492.3 450.8 L 495.7 451.8 M 492.3 460.9 L 496.3 461.9 M 492.7 471 L 496.7 472 M 493.1 482.2 L 497.3 483.2 M 493.1 492.3 L 497.7 493.3 M 493.1 502.4 L 498.7 503.4"/>
<path d="M 504.8 500.4 L 513.9 497.3 L 515.3 507.5 L 505.8 509.9"/>
<path d="M 504.8 500.4 L 505.8 509.9"/>
<circle cx="509.9" cy="501.8" r="2" fill="none"/>
<path d="M 519.4 509.9 L 537.2 504 L 543.3 505 L 543.7 509.9"/>
<path d="M 537.2 504 L 531.5 509.9"/>
<path d="M 497.7 500.4 L 498.7 509.9"/>
<!-- D1 -->
<path d="M 250.5 510 L 251.5 580.9"/>
<path d="M 258 510 L 258.6 570.8"/>
<path d="M 266.1 510 L 266.1 570.8"/>
<path d="M 225.2 543.4 C 235.3 543.4 243.4 549.5 250.9 553.5"/>
<path d="M 224.8 563.7 C 235.3 565.7 243.4 569.7 250.9 571.8"/>
<path d="M 225.2 543.4 C 219.1 545.4 219.1 561.6 224.8 563.7"/>
<path d="M 246.5 555.6 C 244.4 560.6 245.4 568.7 248.5 570.8"/>
<path d="M 262.7 556.6 C 255.6 558.6 255.6 576.8 262.7 579.9"/>
<path d="M 262.7 556.6 C 271.8 557.6 279.9 564.7 290 563.7"/>
<path d="M 262.7 579.9 C 271.8 582.9 279.9 584.9 290 585.9"/>
<path d="M 290 564.3 C 281.9 565.7 280.9 582.9 289 585.3"/>
<path d="M 148.2 603.6 L 199.9 619.4"/>
<path d="M 145.8 612.9 L 199.9 629.5"/>
<path d="M 148.2 603.6 C 143.2 604.2 143.2 612.3 146.2 612.9 C 150.3 612.3 151.3 604.8 148.2 603.6"/>
<path stroke-width="1.8" d="M 166.1 609.2 C 163.4 611.3 163.4 616.3 164.8 618.4"/>
<path stroke-width="1.8" d="M 183.7 614.9 C 181 617.3 181 622.4 182.7 624.4"/>
<path stroke-width="4.4" stroke-dasharray="1.7 1.3" stroke-linecap="butt" d="M 199.9 609.2 L 185.1 614.3"/>
<path d="M 190.8 609.2 C 184.7 610.3 181.6 613.3 183.7 615.7 C 185.7 617.3 190.8 615.3 192.8 612.3"/>
<path d="M 266.1 510 L 266.1 536.3 C 267.7 540.4 271.8 540.4 272.8 536.3 L 272.8 510"/>
<path d="M 269.7 540.4 L 269.7 550.5 L 280.9 553.5 L 280.9 540.4"/>
<g transform="translate(285.5 532.3) rotate(0) scale(1 1.500)"><circle r="4.1" fill="#fff" stroke-width="2.1"/><circle r="3.2" stroke-width="1"/><path d="M1.7 0L3.2 0M1.4 1L2.6 1.9M0.5 1.6L1 3.1M-0.5 1.6L-1 3.1M-1.4 1L-2.6 1.9M-1.7 0L-3.2 0M-1.4 -1L-2.6 -1.9M-0.5 -1.6L-1 -3.1M0.5 -1.6L1 -3.1M1.4 -1L2.6 -1.9" stroke-width="1.05"/><circle r="1.7" fill="#fff" stroke-width="1.2"/><circle r="0.6" stroke-width="1"/></g>
<path d="M 276.8 510 C 277.8 516.1 283.9 519.1 290 518.1"/>
<path d="M 274.2 510 L 274.2 534.3"/>
<!-- D1b -->
<path d="M 208.2 619.6 L 214.6 614.9 L 230.1 619.1 L 222.8 623.2 Z"/>
<path d="M 208.2 619.6 L 205.1 632 L 219 636.5 L 222.8 623.2"/>
<path d="M 219 636.5 L 231 632.3 L 230.1 619.1"/>
<path d="M 205.1 632 L 205.7 633.5 L 219 638 L 231 633.5"/>
<path d="M 203.8 623.2 C 201.9 624.4 201.9 629.5 204.4 630.5"/>
<path d="M 200 621.9 L 205.1 623.2"/>
<path d="M 200 629.5 L 204.4 630.5"/>
<path d="M 214.6 614.9 L 251.3 601.6"/>
<path d="M 230.1 619.1 L 300 595.1"/>
<path d="M 223.4 614.3 L 250.6 605.4"/>
<path d="M 231.6 620.6 L 233.2 632 L 250 625.7 L 249.4 614.6"/>
<circle cx="237.1" cy="623.8" r="1.8" fill="none"/>
<circle cx="245.6" cy="620.9" r="1.8" fill="none"/>
<circle cx="237.1" cy="623.8" r="0.8" fill="none"/>
<circle cx="245.6" cy="620.9" r="0.8" fill="none"/>
<path d="M 250 623.2 L 300 606.7"/>
<path d="M 233.2 632 L 250 625.7 L 281 635.8 L 265.8 642.4 Z"/>
<path d="M 257.6 570 L 258.2 604.2 L 266.5 603.5 L 266.1 577.6"/>
<path d="M 250.6 570 L 251.3 601.6 L 258.2 604.2"/>
<g transform="translate(250 587.1) rotate(0) scale(1 1.069)"><circle r="7.3" fill="#fff" stroke-width="2.1"/><circle r="5.9" stroke-width="1"/><path d="M3.1 0L5.9 0M2.8 1.3L5.3 2.5M1.9 2.4L3.7 4.6M0.7 3L1.3 5.7M-0.7 3L-1.3 5.7M-1.9 2.4L-3.7 4.6M-2.8 1.3L-5.3 2.5M-3.1 0L-5.9 0M-2.8 -1.3L-5.3 -2.5M-1.9 -2.4L-3.7 -4.6M-0.7 -3L-1.3 -5.7M0.7 -3L1.3 -5.7M1.9 -2.4L3.7 -4.6M2.8 -1.3L5.3 -2.5" stroke-width="1.05"/><circle r="3.1" fill="#fff" stroke-width="1.2"/><circle r="1.2" stroke-width="1"/></g>
<circle cx="241.1" cy="597.2" r="3.2" fill="#fff"/>
<path fill="#555" d="M 238 596.8 L 231.6 594.1 L 227.2 598.5 L 232.3 601 Z"/>
<path stroke-width="4.4" stroke-dasharray="1.7 1.3" stroke-linecap="butt" d="M 227.2 598.5 L 200 608"/>
<path d="M 282.3 570 C 281 575.1 282.3 582.7 287.3 585.2 C 293.7 585.8 297.5 581.4 298.1 575.1 L 297.5 570"/>
<circle cx="290.5" cy="575.7" r="2.5" fill="none"/>
<circle cx="290.5" cy="575.7" r="1" fill="none"/>
<path d="M 281 589 L 281 597.2 L 288.6 596.6 L 288.6 589"/>
<g transform="translate(279.1 585.2) rotate(0) scale(1 2.333)"><circle r="1.9" fill="#fff" stroke-width="2.1"/><circle r="1.5" stroke-width="1"/><path d="M0.8 0L1.5 0M0.6 0.5L1.2 0.9M0.2 0.8L0.5 1.4M-0.2 0.8L-0.5 1.4M-0.6 0.5L-1.2 0.9M-0.8 0L-1.5 0M-0.6 -0.5L-1.2 -0.9M-0.2 -0.8L-0.5 -1.4M0.2 -0.8L0.5 -1.4M0.6 -0.5L1.2 -0.9" stroke-width="1.05"/><circle r="0.8" fill="#fff" stroke-width="1.2"/><circle r="0.3" stroke-width="1"/></g>
<path d="M 266.5 592.8 L 281 589"/>
<path d="M 266.5 596.6 L 281 593.4"/>
<path d="M 288.6 589 L 300 585.2"/>
<path d="M 288.6 582.7 L 300 580.8"/>
<path d="M 266.1 577.6 L 275.9 575.1 L 282.3 576.3"/>
<!-- D2 -->
<path d="M 290 609.6 L 424.7 562.3"/>
<path d="M 290 599.1 L 358.9 574.8 M 369 571.8 L 424.7 551.5"/>
<path d="M 290 591 L 302.2 587 M 320.4 580.5 L 356.8 567.7"/>
<path d="M 320.4 571.8 L 359.9 560.6"/>
<path d="M 320.4 575.2 L 359.9 564.3"/>
<path d="M 302.6 526.2 L 303.8 589"/>
<path d="M 309.8 528.2 L 310.7 591"/>
<path d="M 320 520.1 L 320.4 585.9"/>
<path d="M 299.1 589 L 310.3 593 L 324.4 587 L 320.4 584.9"/>
<path d="M 305.8 570.8 L 306.2 589 L 309.2 590 L 309.6 571.8 Z"/>
<circle cx="311.3" cy="516.1" r="8.5" fill="#fff"/>
<circle cx="311.9" cy="516.5" r="2.4" fill="none"/>
<path d="M 320.4 519.1 L 364.9 535.3"/>
<path d="M 329.5 514.5 L 367 527.2"/>
<path d="M 320.4 523.2 L 363.9 539.4"/>
<path stroke-width="0.8" d="M 332.5 516.1 L 331.5 519.1 M 335.6 517.1 L 334.6 520.1 M 338.6 518.1 L 337.6 521.1 M 341.6 519.1 L 340.6 522.2 M 344.7 520.1 L 343.7 523.2 M 347.7 521.1 L 346.7 524.2 M 350.8 522.2 L 349.7 525.2 M 353.8 523.2 L 352.8 526.2"/>
<path d="M 379.1 540.4 L 403.4 549.5"/>
<path d="M 391.3 528.2 L 411.5 536.3"/>
<path d="M 375.1 548.5 L 399.4 557.6"/>
<path d="M 366.6 510 L 359.9 568.7"/>
<path d="M 373.4 512 L 370 570.8"/>
<path d="M 385.2 511 L 379.1 565.7"/>
<path d="M 354.8 568.7 L 364.9 574.8 L 396.3 563.7 L 392.9 561.6"/>
<path stroke-width="0.8" d="M 371 570.8 L 372 568.7 M 375.1 569.3 L 376.1 567.3 M 379.1 567.9 L 380.1 565.9 M 383.2 566.5 L 384.2 564.5 M 387.2 565.1 L 388.2 563.1 M 391.3 563.7 L 392.3 561.6"/>
<path d="M 362.5 551.5 L 361.9 568.7 L 365.9 569.7 L 367 552.5 Z"/>
<g transform="translate(385.2 541.4) rotate(0) scale(1 2.111)"><circle r="3.6" fill="#fff" stroke-width="2.1"/><circle r="2.9" stroke-width="1"/><path d="M1.5 0L2.9 0M1.2 0.9L2.4 1.7M0.5 1.5L0.9 2.8M-0.5 1.5L-0.9 2.8M-1.2 0.9L-2.4 1.7M-1.5 0L-2.9 0M-1.2 -0.9L-2.4 -1.7M-0.5 -1.5L-0.9 -2.8M0.5 -1.5L0.9 -2.8M1.2 -0.9L2.4 -1.7" stroke-width="1.05"/><circle r="1.5" fill="#fff" stroke-width="1.2"/><circle r="0.6" stroke-width="1"/></g>
<path d="M 395.3 516.1 L 385.2 558.6"/>
<path d="M 398.4 517.1 L 389.2 558.6"/>
<circle cx="388.2" cy="558.6" r="1.6" fill="none"/>
<g transform="translate(402.4 515.7) rotate(0) scale(1 1.143)"><circle r="7.1" fill="#fff" stroke-width="2.1"/><circle r="5.7" stroke-width="1"/><path d="M3 0L5.7 0M2.7 1.3L5.1 2.5M1.9 2.3L3.5 4.4M0.7 2.9L1.3 5.5M-0.7 2.9L-1.3 5.5M-1.9 2.3L-3.5 4.4M-2.7 1.3L-5.1 2.5M-3 0L-5.7 0M-2.7 -1.3L-5.1 -2.5M-1.9 -2.3L-3.5 -4.4M-0.7 -2.9L-1.3 -5.5M0.7 -2.9L1.3 -5.5M1.9 -2.3L3.5 -4.4M2.7 -1.3L5.1 -2.5" stroke-width="1.05"/><circle r="3" fill="#fff" stroke-width="1.2"/><circle r="1.1" stroke-width="1"/></g>
<g transform="translate(419.6 540.4) rotate(0) scale(1 1.143)"><circle r="8.5" fill="#fff" stroke-width="2.1"/><circle r="6.8" stroke-width="1"/><path d="M3.6 0L6.8 0M3.2 1.6L6.1 3M2.2 2.8L4.2 5.3M0.8 3.5L1.5 6.6M-0.8 3.5L-1.5 6.6M-2.2 2.8L-4.2 5.3M-3.2 1.6L-6.1 3M-3.6 0L-6.8 0M-3.2 -1.6L-6.1 -3M-2.2 -2.8L-4.2 -5.3M-0.8 -3.5L-1.5 -6.6M0.8 -3.5L1.5 -6.6M2.2 -2.8L4.2 -5.3M3.2 -1.6L6.1 -3" stroke-width="1.05"/><circle r="3.6" fill="#fff" stroke-width="1.2"/><circle r="1.4" stroke-width="1"/></g>
<path d="M 413.5 510 L 414.6 532.3"/>
<path d="M 424.7 510 L 425.3 562.7"/>
<path d="M 434.8 510 L 434.8 536.3"/>
<path d="M 424.7 551.5 L 445.9 538.4 L 447 543.4 L 431.8 550.5 L 431.8 561.6 L 425.3 563.1"/>
<circle cx="428.3" cy="557" r="2" fill="none"/>
<path d="M 431.8 550.5 L 450 553.5"/>
<path d="M 447 543.4 L 450 544"/>
<path d="M 434.8 514.1 L 450 518.1 M 434.8 520.1 L 450 524.2 M 434.8 526.2 L 450 530.3"/>
<circle cx="429.7" cy="533.9" r="1.4" fill="none"/>
<path d="M 290 564.7 C 296.1 565.7 299.1 572.8 296.1 580.9 C 294.1 584.9 291 585.9 290 585.3"/>
<circle cx="291" cy="575.2" r="2.4" fill="none"/>
<!-- D3 -->
<path d="M 464.2 510 L 464.2 551.5"/>
<path d="M 471.9 510 L 471.9 552.5"/>
<path d="M 464.2 551.5 L 471.9 552.9"/>
<path d="M 486.5 519.7 L 498.6 519.1 L 499 524.6 L 486.9 525.4 Z"/>
<path d="M 486.5 519.7 L 520.9 510"/>
<path d="M 498.6 519.1 L 535.1 510"/>
<path d="M 499 524.6 L 545.2 511.6"/>
<path d="M 499.6 527.2 L 504.7 572.8"/>
<path d="M 506.3 525.8 L 511.8 576.8"/>
<path d="M 516.8 522.2 L 519.9 574.8"/>
<circle cx="512.4" cy="525.8" r="2.4" fill="none"/>
<path d="M 506.3 525.8 C 507.7 521.1 515.8 520.1 516.8 522.2"/>
<path stroke-width="0.9" d="M 507.7 530.3 L 510.8 570.8 M 509.1 528.2 L 513.2 572.8"/>
<path d="M 496.6 573.8 L 518.9 581.9 L 522.9 578.9 L 519.9 574.8"/>
<path stroke-width="0.8" d="M 500.6 574.4 L 502.3 572.4 M 503.7 575.6 L 505.3 573.6 M 506.7 576.8 L 508.3 574.8 M 509.7 578.1 L 511.4 576 M 512.8 579.3 L 514.4 577.2 M 515.8 580.5 L 517.4 578.5"/>
<path d="M 450 546.5 L 457.1 549.5"/>
<path d="M 472.3 551.5 L 500.6 562.3"/>
<path stroke-width="1.8" d="M 450 551.9 L 552.3 590.4"/>
<path d="M 450 557 L 496.6 574.4 M 519.9 582.9 L 551.3 595.1"/>
<path d="M 450 566.3 L 551.3 603.6"/>
<path d="M 522.9 577.8 L 560.4 588.4"/>
<path d="M 551.3 590.4 L 560.4 588.4 L 568.5 592 L 573.9 604.4 L 565.4 609.2 L 551.3 603.6 Z"/>
<path d="M 560.4 599.5 L 568.5 592"/>
<path d="M 560.4 599.5 L 565.4 609.2"/>
<path d="M 551.3 590.4 L 560.4 599.5"/>
<path d="M 551.3 603.6 L 552.3 606 L 565.4 611.3 L 574.4 605.6 L 573.9 604.4"/>
<path d="M 521.9 558.6 L 531 555.6 L 539.1 559.6 L 544.2 570.8 L 535.1 574.8 L 521.9 569.7 Z"/>
<path d="M 531 568.7 L 539.1 559.6"/>
<path d="M 521.9 558.6 L 531 568.7 L 535.1 574.8"/>
<path d="M 521.9 569.7 L 522.5 572 L 535.1 577.2 L 544.6 572"/>
<path d="M 474.3 544.8 L 498.6 553.5"/>
<path d="M 519.9 551.5 L 531 555.6"/>
<path d="M 470.3 553.5 L 500.6 563.1"/>
<path d="M 491.5 532.3 L 491.5 544.4 L 500.6 547.5"/>
<circle cx="489.5" cy="540.4" r="1.4" fill="#333"/>
<circle cx="451" cy="541.4" r="1.6" fill="#333"/>
<path d="M 491.5 532.3 L 491.5 510"/>
<path d="M 497.6 510 L 497.6 519.1"/>
<path d="M 503.7 510 L 503.1 518.1"/>
<!-- R1 -->
<rect x="225" y="470" width="100" height="75" fill="#fff" stroke="none"/>
<path d="M 232.6 470 L 240.2 475.1 L 266.8 484.2"/>
<path d="M 243.4 470 L 273.7 481.6 C 279.4 482.7 282.6 480.8 285.8 477 L 291.5 470"/>
<path d="M 300.9 470 L 293.4 482.7 L 325 477.8"/>
<path d="M 280.1 490.9 L 312.3 503.9 L 325 508.2"/>
<path d="M 273.7 487.7 L 280.7 490.9 L 280.7 497.2 L 273.7 498.9"/>
<path d="M 265.8 484.2 L 265.8 494.7"/>
<path d="M 273.4 487.7 L 273.7 544.9"/>
<path d="M 250.3 495.3 L 250.9 544.9"/>
<path d="M 258.9 506.7 L 259.4 544.9"/>
<path d="M 265.8 508 L 266.5 544.9"/>
<path d="M 250.3 495.1 C 250.9 491.5 256 490.3 258.9 492.8 L 263 494.1"/>
<path d="M 250.3 495.1 L 258.9 497.2"/>
<path d="M 245.3 485.2 C 240.8 486.5 239.6 499.1 244 504.8"/>
<path d="M 245.3 485.2 C 248.4 484.2 252.2 485.8 254.4 489"/>
<path d="M 249.7 492.5 C 247.8 495.3 247.8 501.6 249.7 505.7"/>
<path d="M 244 504.8 L 249.7 505.7"/>
<path d="M 258.9 497.2 C 259.8 494.7 265.5 493.4 269.3 495.3 C 272.5 497.2 273.1 501.6 272.8 508 L 272.5 516.2 C 270.6 515.6 268.7 513 268.7 509.2 C 268 507.3 265.5 506.7 263 507.3 C 259.8 507.3 258.2 502.9 258.9 497.2"/>
<circle cx="263.6" cy="501" r="1.9" fill="none"/>
<circle cx="263.6" cy="501" r="0.8" fill="none"/>
<path d="M 280.7 499.1 C 283.2 497.2 285.8 497.6 288.3 498.5 L 312.3 506.7"/>
<path d="M 279.4 516.8 L 306 526.3"/>
<path d="M 280.7 499.1 C 276.9 501.6 276.3 513 279.4 516.8"/>
<path d="M 312.3 506.7 C 318.7 507.3 319.9 518.1 316.1 524.4 C 313.6 527.6 308.5 527.6 306 526.3 C 302.2 523.2 302.8 509.2 312.3 506.7"/>
<circle cx="311.7" cy="517.1" r="2.3" fill="none"/>
<circle cx="311.7" cy="517.1" r="1" fill="none"/>
<g transform="translate(284.7 531.4) rotate(0) scale(1 1.818)"><circle r="2.8" fill="#fff" stroke-width="2.1"/><circle r="2.2" stroke-width="1"/><path d="M1.2 0L2.2 0M0.9 0.7L1.8 1.3M0.4 1.1L0.7 2.1M-0.4 1.1L-0.7 2.1M-0.9 0.7L-1.8 1.3M-1.2 0L-2.2 0M-0.9 -0.7L-1.8 -1.3M-0.4 -1.1L-0.7 -2.1M0.4 -1.1L0.7 -2.1M0.9 -0.7L1.8 -1.3" stroke-width="1.05"/><circle r="1.2" fill="#fff" stroke-width="1.2"/><circle r="0.4" stroke-width="1"/></g>
<path d="M 303.5 526.3 L 304.1 544.9"/>
<path d="M 312.3 527.2 L 312.6 544.9"/>
<path d="M 318.7 520.6 L 319.3 544.9"/>
<path d="M 225 543.4 C 227.5 542.2 231.3 542.8 232.6 544.9"/>
<path d="M 266.8 533.3 C 269.3 532.7 271.2 534.6 271.2 537.1 C 271.2 539.6 269.3 540.9 267.4 540.3"/>
<path d="M 319.3 511.8 L 325 513.8"/>
<!-- R2 -->
<rect x="325" y="470" width="100" height="75" fill="#fff" stroke="none"/>
<path d="M 325 478.2 C 330.1 477.8 333.9 478.9 337.7 480.1 L 373.7 493"/>
<path d="M 325 503.9 L 373.7 494.3"/>
<path d="M 328.2 503.3 L 328.2 513.3"/>
<path d="M 325 514.3 L 328.2 513.3 L 370.6 505.4"/>
<path d="M 373.7 493 L 374.1 504.8"/>
<path d="M 367.4 484.6 L 376.9 487.1 L 376.9 513 L 367.4 510.5 Z"/>
<circle cx="370.3" cy="489" r="1.6" fill="#333"/>
<circle cx="368.7" cy="508.6" r="1.6" fill="#333"/>
<path d="M 344 470 L 342.1 481.1"/>
<path d="M 352.2 470 L 350.3 483.9"/>
<path d="M 359.2 470 L 357.3 486.5"/>
<path d="M 369.3 470 L 367.4 484.6"/>
<path d="M 377.5 470 L 376.9 487.1"/>
<path d="M 359.2 473.2 L 368.7 470"/>
<path d="M 367.4 510.5 L 363 544.9"/>
<path d="M 376.9 513 L 373.1 544.9"/>
<path d="M 387.7 470 L 380.7 544.9"/>
<path d="M 395.9 470 L 394.4 482.7"/>
<path d="M 384.5 485.2 L 387.7 484.9 L 385.1 512.4 L 382.6 511.8"/>
<path d="M 327.5 514.3 L 354.7 525.7"/>
<path d="M 331.3 513.7 L 363 525.7"/>
<path stroke-width="0.9" d="M 330.1 515.6 L 332.6 514.3 M 332.6 516.6 L 335.1 515.3 M 335.1 517.6 L 337.7 516.3 M 337.7 518.6 L 340.2 517.3 M 340.2 519.6 L 342.7 518.4 M 342.7 520.6 L 345.3 519.4 M 345.3 521.6 L 347.8 520.4 M 347.8 522.7 L 350.3 521.4 M 350.3 523.7 L 352.8 522.4"/>
<path d="M 346.5 511.8 L 347.2 520.6"/>
<path d="M 354.7 510.3 L 355.4 520.6"/>
<path d="M 325 523.2 L 363 536.1"/>
<path d="M 353.5 520.6 L 357.9 518.7 L 361.7 520.6 L 355.4 523.2 Z"/>
<g transform="translate(402.8 487.7) rotate(0) scale(1 1.293)"><circle r="7.3" fill="#fff" stroke-width="2.1"/><circle r="5.9" stroke-width="1"/><path d="M3.1 0L5.9 0M2.8 1.3L5.3 2.5M1.9 2.4L3.7 4.6M0.7 3L1.3 5.7M-0.7 3L-1.3 5.7M-1.9 2.4L-3.7 4.6M-2.8 1.3L-5.3 2.5M-3.1 0L-5.9 0M-2.8 -1.3L-5.3 -2.5M-1.9 -2.4L-3.7 -4.6M-0.7 -3L-1.3 -5.7M0.7 -3L1.3 -5.7M1.9 -2.4L3.7 -4.6M2.8 -1.3L5.3 -2.5" stroke-width="1.05"/><circle r="3.1" fill="#fff" stroke-width="1.2"/><circle r="1.2" stroke-width="1"/></g>
<g transform="translate(403.5 514.3) rotate(0) scale(1 1.346)"><circle r="6.6" fill="#fff" stroke-width="2.1"/><circle r="5.3" stroke-width="1"/><path d="M2.8 0L5.3 0M2.5 1.2L4.7 2.3M1.7 2.2L3.3 4.1M0.6 2.7L1.2 5.1M-0.6 2.7L-1.2 5.1M-1.7 2.2L-3.3 4.1M-2.5 1.2L-4.7 2.3M-2.8 0L-5.3 0M-2.5 -1.2L-4.7 -2.3M-1.7 -2.2L-3.3 -4.1M-0.6 -2.7L-1.2 -5.1M0.6 -2.7L1.2 -5.1M1.7 -2.2L3.3 -4.1M2.5 -1.2L4.7 -2.3" stroke-width="1.05"/><circle r="2.8" fill="#fff" stroke-width="1.2"/><circle r="1.1" stroke-width="1"/></g>
<g transform="translate(420.2 537.7) rotate(0) scale(1 1.121)"><circle r="7.3" fill="#fff" stroke-width="2.1"/><circle r="5.9" stroke-width="1"/><path d="M3.1 0L5.9 0M2.8 1.3L5.3 2.5M1.9 2.4L3.7 4.6M0.7 3L1.3 5.7M-0.7 3L-1.3 5.7M-1.9 2.4L-3.7 4.6M-2.8 1.3L-5.3 2.5M-3.1 0L-5.9 0M-2.8 -1.3L-5.3 -2.5M-1.9 -2.4L-3.7 -4.6M-0.7 -3L-1.3 -5.7M0.7 -3L1.3 -5.7M1.9 -2.4L3.7 -4.6M2.8 -1.3L5.3 -2.5" stroke-width="1.05"/><circle r="3.1" fill="#fff" stroke-width="1.2"/><circle r="1.2" stroke-width="1"/></g>
<g transform="translate(386 539.9) rotate(0) scale(1 1.538)"><circle r="3.3" fill="#fff" stroke-width="2.1"/><circle r="2.6" stroke-width="1"/><path d="M1.4 0L2.6 0M1.1 0.8L2.1 1.5M0.4 1.3L0.8 2.5M-0.4 1.3L-0.8 2.5M-1.1 0.8L-2.1 1.5M-1.4 0L-2.6 0M-1.1 -0.8L-2.1 -1.5M-0.4 -1.3L-0.8 -2.5M0.4 -1.3L0.8 -2.5M1.1 -0.8L2.1 -1.5" stroke-width="1.05"/><circle r="1.4" fill="#fff" stroke-width="1.2"/><circle r="0.5" stroke-width="1"/></g>
<path d="M 397.8 495.3 L 398.4 501.6 C 399.7 504.4 406 504.4 408.5 501.6"/>
<circle cx="400.9" cy="489" r="1.8" fill="#fff"/>
<circle cx="407.3" cy="514.6" r="1.8" fill="#fff"/>
<path d="M 410.4 501.6 L 411.3 544.9"/>
<path d="M 416.4 470 L 416.9 529.5"/>
<path d="M 385.1 512.4 L 395.9 508"/>
<path d="M 384.5 520.6 L 413.6 529.5"/>
<path d="M 383.9 524.7 L 412.3 535.2"/>
<path d="M 412.3 518.1 L 416.4 519.6"/>
<path d="M 395.9 520.6 L 390.8 544.9"/>
<path d="M 393.4 511.8 L 395.3 515.6"/>
<!-- R3 -->
<rect x="270" y="225" width="100" height="75" fill="#fff" stroke="none"/>
<path d="M 304.2 225 L 303.2 231.3 L 305.4 234.1 L 307.7 231.3 L 306.7 225"/>
<path stroke-width="3.4" stroke-dasharray="2.4 1.3" stroke-linecap="butt" d="M 305.4 234.1 L 305.4 280.7"/>
<path stroke-width="1.0" d="M 303.9 234.5 L 303.9 280.7 M 307 234.5 L 307 280.7"/>
<path d="M 304.2 280.7 L 303.2 288.3"/>
<path d="M 306.7 280.7 L 308 287.7"/>
<path d="M 298.5 289.6 C 300.4 287.7 308 288.3 310.5 290.8 L 313.7 297.4 L 308 298.2 C 302.9 297.2 299.1 294.6 298.5 289.6"/>
<circle cx="300.4" cy="291.5" r="1.4" fill="none"/>
<circle cx="309.9" cy="295.3" r="1.3" fill="none"/>
<path d="M 282.7 289.6 L 289 270.3 C 291.5 259.2 299.1 249.1 311.8 244 C 315.6 243 319.4 242.7 322.5 243"/>
<path d="M 295.9 289.6 L 301 273.7 C 303.5 264.2 309.2 259.2 318.7 257.3 L 330.1 261.7"/>
<path d="M 289 270.3 C 293.4 272.8 298.5 274.1 301 273.7"/>
<path d="M 320.6 248.4 C 318.1 250.3 317.5 255.4 319.4 258.5"/>
<path d="M 311.8 244 C 314.3 245 317.5 246.8 319.1 249.1"/>
<path d="M 322.2 231.6 L 325.7 230.3 L 335.8 233.9"/>
<path d="M 322.2 231.6 L 370 248.4"/>
<path d="M 322.2 231.6 L 321.3 247.5 L 370 263"/>
<path stroke-width="3.0" d="M 325.7 249.9 L 370 264.5"/>
<path d="M 330.8 252.2 L 361.1 262.3 L 358.6 275 L 330.1 265.5 Z"/>
<path d="M 361.1 274.4 L 360.5 299.9"/>
<path d="M 366.2 275.6 L 366.2 299.9"/>
<path d="M 370 276.9 L 369.5 299.9"/>
<path d="M 335.8 225 L 335.8 236.1"/>
<path d="M 341.1 225 L 341.1 237.9"/>
<path d="M 361.4 225 L 361.6 245.3"/>
<path d="M 370 227.5 L 370 248.4"/>
<circle cx="331.6" cy="230.3" r="1.9" fill="#fff"/>
<circle cx="367.5" cy="230.7" r="1.6" fill="#333"/>
<g transform="translate(352.3 229.1) rotate(0) scale(1 1.273)"><circle r="7" fill="#fff" stroke-width="2.1"/><circle r="5.6" stroke-width="1"/><path d="M2.9 0L5.6 0M2.6 1.3L5 2.4M1.8 2.3L3.5 4.4M0.7 2.9L1.2 5.4M-0.7 2.9L-1.2 5.4M-1.8 2.3L-3.5 4.4M-2.6 1.3L-5 2.4M-2.9 0L-5.6 0M-2.6 -1.3L-5 -2.4M-1.8 -2.3L-3.5 -4.4M-0.7 -2.9L-1.2 -5.4M0.7 -2.9L1.2 -5.4M1.8 -2.3L3.5 -4.4M2.6 -1.3L5 -2.4" stroke-width="1.05"/><circle r="2.9" fill="#fff" stroke-width="1.2"/><circle r="1.1" stroke-width="1"/></g>
<path d="M 270 290.8 C 271.3 288.9 273.8 288.9 282.7 290.6 L 298.5 294 L 316.2 299.9"/>
<path d="M 271.3 296.1 L 295.3 299.9"/>
<path d="M 270 290.8 C 269.2 292.7 270 295.4 271.3 296.1"/>
<!-- R4 -->
<rect x="370" y="225" width="100" height="75" fill="#fff" stroke="none"/>
<g transform="translate(425.7 252.2) rotate(0) scale(1 1.236)"><circle r="7" fill="#fff" stroke-width="2.1"/><circle r="5.6" stroke-width="1"/><path d="M2.9 0L5.6 0M2.6 1.3L5 2.4M1.8 2.3L3.5 4.4M0.7 2.9L1.2 5.4M-0.7 2.9L-1.2 5.4M-1.8 2.3L-3.5 4.4M-2.6 1.3L-5 2.4M-2.9 0L-5.6 0M-2.6 -1.3L-5 -2.4M-1.8 -2.3L-3.5 -4.4M-0.7 -2.9L-1.2 -5.4M0.7 -2.9L1.2 -5.4M1.8 -2.3L3.5 -4.4M2.6 -1.3L5 -2.4" stroke-width="1.05"/><circle r="2.9" fill="#fff" stroke-width="1.2"/><circle r="1.1" stroke-width="1"/></g>
<g transform="translate(425.1 280.7) rotate(0) scale(1 1.236)"><circle r="7" fill="#fff" stroke-width="2.1"/><circle r="5.6" stroke-width="1"/><path d="M2.9 0L5.6 0M2.6 1.3L5 2.4M1.8 2.3L3.5 4.4M0.7 2.9L1.2 5.4M-0.7 2.9L-1.2 5.4M-1.8 2.3L-3.5 4.4M-2.6 1.3L-5 2.4M-2.9 0L-5.6 0M-2.6 -1.3L-5 -2.4M-1.8 -2.3L-3.5 -4.4M-0.7 -2.9L-1.2 -5.4M0.7 -2.9L1.2 -5.4M1.8 -2.3L3.5 -4.4M2.6 -1.3L5 -2.4" stroke-width="1.05"/><circle r="2.9" fill="#fff" stroke-width="1.2"/><circle r="1.1" stroke-width="1"/></g>
<path fill="#222" d="M 411.8 257.3 L 420 253.5 L 422.9 275.6 L 413.7 275.4 Z"/>
<path fill="#fff" d="M 420.6 257.9 L 429.5 256.6 L 430.1 275 L 422.5 275 Z"/>
<path d="M 420.6 257.9 L 429.5 256.6 L 430.1 275 L 422.5 275 Z"/>
<path d="M 421.3 266.8 L 429.7 265.5"/>
<circle cx="427.6" cy="254.7" r="1.5" fill="#fff"/>
<circle cx="427" cy="279.4" r="1.5" fill="#fff"/>
<g transform="translate(414.3 236.6) rotate(15) scale(1 1.846)"><circle r="3.3" fill="#fff" stroke-width="2.1"/><circle r="2.6" stroke-width="1"/><path d="M1.4 0L2.6 0M1.1 0.8L2.1 1.5M0.4 1.3L0.8 2.5M-0.4 1.3L-0.8 2.5M-1.1 0.8L-2.1 1.5M-1.4 0L-2.6 0M-1.1 -0.8L-2.1 -1.5M-0.4 -1.3L-0.8 -2.5M0.4 -1.3L0.8 -2.5M1.1 -0.8L2.1 -1.5" stroke-width="1.05"/><circle r="1.4" fill="#fff" stroke-width="1.2"/><circle r="0.5" stroke-width="1"/></g>
<circle cx="408" cy="259.8" r="3.8" fill="none"/>
<circle cx="406.7" cy="261.1" r="0.6" fill="#333"/>
<path d="M 414.6 256 L 399.4 274.6 M 415.8 257.3 L 401 275.6"/>
<circle cx="400" cy="275.6" r="1.5" fill="#333"/>
<path d="M 370 268.7 L 375.1 267 C 381.4 264.9 391.5 264.5 397.2 267 L 399.4 268 L 397.2 280.7"/>
<path d="M 397.2 280.7 C 401.6 285.8 404.8 293.4 406.1 299.9"/>
<path d="M 375.1 275.6 C 383.9 278.2 389 285.8 390.9 299.9"/>
<path d="M 382.7 269.6 C 391.5 275.6 397.2 285.8 399.7 299.9"/>
<path d="M 375.1 267.4 L 373.8 275.6"/>
<path d="M 370 275.6 L 373.8 275.6"/>
<path d="M 392.8 266.8 L 392.8 278.2 L 397.2 280.7"/>
<path d="M 370 234.5 L 399.1 230.7"/>
<path d="M 370 241.5 L 397.8 237"/>
<path d="M 370 248.4 L 380.1 246.5 L 380.1 263 L 370 264.9"/>
<path fill="#222" d="M 370 242.7 L 375.1 242.1 L 375.1 245.3 L 370 245.9 Z"/>
<circle cx="383.3" cy="255.4" r="1.8" fill="#333"/>
<circle cx="392.8" cy="260.4" r="1.4" fill="#333"/>
<path d="M 373.8 225 L 373.8 232.8"/>
<path d="M 382 225 L 382 231.6"/>
<path d="M 392.8 225 L 393.4 236.4"/>
<path d="M 397.2 225 L 397.8 237"/>
<path d="M 401.6 225 L 400.4 263"/>
<path d="M 380.1 249.1 L 400.4 246.5"/>
<path d="M 382.7 246.5 L 382.7 249.1"/>
<path d="M 411.8 225 L 408 256"/>
<path d="M 418.7 225 L 417.1 244"/>
<path d="M 432 225 L 429.5 299.9"/>
<path d="M 411.8 275.6 L 410.5 299.9"/>
<path d="M 416.8 287 L 416.2 299.9"/>
<path d="M 440.3 225 L 440.3 299.9"/>
<path d="M 464.9 225 L 464.9 299.9"/>
<path d="M 432.7 225 L 433.3 245.3 M 433.3 260.4 L 433 273.1 M 432.3 288.3 L 432 299.9"/>
<!-- R5 -->
<rect x="370" y="150" width="100" height="75" fill="#fff" stroke="none"/>
<path d="M 370 170.3 L 402.9 170.9 L 403.5 174.7 L 424.4 175.3 L 425.7 173.4"/>
<path d="M 375.3 187.3 L 399.1 186.7 L 401 185.8 L 422.5 186.1"/>
<path d="M 370 177 L 375.3 176.6 L 373.2 224.9"/>
<path d="M 400.4 187 L 423.2 187.6 L 424.4 175.3"/>
<path d="M 425.4 173.4 L 426.3 188 L 420.6 189.9"/>
<circle cx="427.2" cy="181.6" r="1.5" fill="none"/>
<path d="M 381.4 170.3 C 387.7 165.2 397.8 162.7 406.7 163.9 L 419.4 169"/>
<path d="M 386.5 169.2 C 392.8 165.4 400.4 164.6 408 165.9"/>
<path d="M 394.1 170.3 L 402.9 169 L 420.6 170.3"/>
<path stroke-width="2.5" d="M 395.3 170.9 L 401.6 172.2"/>
<path d="M 418.7 168.4 L 439 161.4 L 470 173.4"/>
<path d="M 432 163.4 L 433.3 166.5 L 420.6 170.3"/>
<path d="M 433.3 166.5 L 456.1 173.4"/>
<circle cx="452.9" cy="167.7" r="1.5" fill="none"/>
<circle cx="452.9" cy="167.7" r="0.6" fill="#333"/>
<path d="M 444.1 169.6 L 444.1 176.6"/>
<path d="M 461.4 174.7 L 461.4 182.3"/>
<path d="M 425.7 173.4 L 444.1 173.4"/>
<path d="M 429.5 177.2 L 435.8 175.3 C 448.5 178.5 461.1 184.2 470 191.8"/>
<path d="M 429.5 177.2 L 430.1 188 L 435.8 190.5 C 448.5 193 461.1 203.2 468.1 224.9"/>
<path d="M 430.8 181 C 445.9 183.5 461.1 190.5 470 201.9"/>
<g transform="translate(392.2 203.2) rotate(0) scale(1 1.293)"><circle r="7.3" fill="#fff" stroke-width="2.1"/><circle r="5.9" stroke-width="1"/><path d="M3.1 0L5.9 0M2.8 1.3L5.3 2.5M1.9 2.4L3.7 4.6M0.7 3L1.3 5.7M-0.7 3L-1.3 5.7M-1.9 2.4L-3.7 4.6M-2.8 1.3L-5.3 2.5M-3.1 0L-5.9 0M-2.8 -1.3L-5.3 -2.5M-1.9 -2.4L-3.7 -4.6M-0.7 -3L-1.3 -5.7M0.7 -3L1.3 -5.7M1.9 -2.4L3.7 -4.6M2.8 -1.3L5.3 -2.5" stroke-width="1.05"/><circle r="3.1" fill="#fff" stroke-width="1.2"/><circle r="1.2" stroke-width="1"/></g>
<path d="M 397.2 196.2 L 401 197.1 L 401.6 208.2 L 397.2 209.5"/>
<circle cx="394.3" cy="203.8" r="1.9" fill="#fff"/>
<circle cx="394.3" cy="203.8" r="0.8" fill="#333"/>
<g transform="translate(436.5 202.5) rotate(0) scale(1 1.905)"><circle r="5.3" fill="#fff" stroke-width="2.1"/><circle r="4.3" stroke-width="1"/><path d="M2.2 0L4.3 0M1.8 1.3L3.4 2.5M0.7 2.1L1.3 4M-0.7 2.1L-1.3 4M-1.8 1.3L-3.4 2.5M-2.2 0L-4.3 0M-1.8 -1.3L-3.4 -2.5M-0.7 -2.1L-1.3 -4M0.7 -2.1L1.3 -4M1.8 -1.3L3.4 -2.5" stroke-width="1.05"/><circle r="2.2" fill="#fff" stroke-width="1.2"/><circle r="0.9" stroke-width="1"/></g>
<path d="M 439 193.7 L 445.9 194.9 L 446.6 209.5 L 440.3 211"/>
<circle cx="442.2" cy="201.9" r="1.8" fill="#fff"/>
<circle cx="442.2" cy="201.9" r="0.8" fill="#333"/>
<path d="M 377.6 188 L 376.1 224.9"/>
<path d="M 404.2 188 L 401.6 224.9"/>
<path d="M 414.9 189.2 L 413.7 224.9"/>
<path d="M 417.5 190.5 L 417.1 224.9"/>
<path d="M 432 191.8 L 431 224.9"/>
<path d="M 382.7 188 L 381.4 224.9"/>
<path d="M 377.6 191.8 L 382.7 192.8 M 376.3 208.2 L 382 209.5 M 375.7 215.8 L 401.6 220.9"/>
<circle cx="372.5" cy="183.5" r="2" fill="#333"/>
<path d="M 445.9 213.3 L 445.9 224.9"/>
<path d="M 440.9 213.3 L 440.9 224.9"/>
<!-- R6 -->
<rect x="270" y="150" width="100" height="75" fill="#fff" stroke="none"/>
<path d="M 313.7 170.9 L 370 170"/>
<path d="M 314.6 173 L 370 172.3"/>
<path d="M 307.7 187.3 L 363.4 187.7"/>
<path d="M 320 189 L 362.4 190"/>
<path d="M 304.8 167.7 L 314.3 171.3 L 307.7 186.7 L 300.4 183.2 L 301 170.9 Z"/>
<path d="M 303.9 170.9 L 311.5 173.8 L 306.7 184.2"/>
<path d="M 301 170.9 L 303.9 170.9"/>
<path stroke-width="1.3" d="M 289 176.8 C 289 181.6 292.2 184.4 295.3 182.4 C 297.2 181 299.1 177.2 301 174.1 M 290.9 176.1 C 290.9 180.4 292.8 181.6 294.7 180.4 C 296.3 179.1 297.8 175.9 300 173 M 289 176.8 C 289.2 175.6 290.5 175.3 290.9 176.1"/>
<path d="M 299.7 178.5 L 302.3 184.8"/>
<g transform="translate(312.4 198.7) rotate(0) scale(1 1.161)"><circle r="7.8" fill="#fff" stroke-width="2.1"/><circle r="6.3" stroke-width="1"/><path d="M3.3 0L6.3 0M3 1.4L5.7 2.7M2.1 2.6L3.9 4.9M0.7 3.2L1.4 6.1M-0.7 3.2L-1.4 6.1M-2.1 2.6L-3.9 4.9M-3 1.4L-5.7 2.7M-3.3 0L-6.3 0M-3 -1.4L-5.7 -2.7M-2.1 -2.6L-3.9 -4.9M-0.7 -3.2L-1.4 -6.1M0.7 -3.2L1.4 -6.1M2.1 -2.6L3.9 -4.9M3 -1.4L5.7 -2.7" stroke-width="1.05"/><circle r="3.3" fill="#fff" stroke-width="1.2"/><circle r="1.3" stroke-width="1"/></g>
<path fill="#222" d="M 307 188 L 312 188 L 310.3 195.6 L 306.5 200.4 L 303.2 199.1 Z"/>
<path fill="#fff" d="M 300.4 188 L 299.7 197.5 L 303.2 199.1 L 307 188 Z"/>
<path d="M 300.4 188 L 299.7 197.5 L 303.2 199.1 L 307 188"/>
<circle cx="305.2" cy="211.4" r="4.8" fill="#fff"/>
<path d="M 300.4 210.8 C 302.3 212.5 308 212.5 310 210.8"/>
<path d="M 303.5 216.2 L 303.2 224.9 M 306.7 216.2 L 307.2 224.9"/>
<path stroke-width="2.5" d="M 304.7 220.9 L 305.2 224.9"/>
<path d="M 340.3 189.2 L 336.5 224.9"/>
<path d="M 344.1 189.9 L 340.9 224.9"/>
<path d="M 351 190.3 L 349.5 203.8"/>
<path d="M 345.9 203.2 L 360.5 207.6 L 360.5 211 L 345.3 206.6 Z"/>
<path d="M 361.1 179.7 C 361.1 178.5 363.7 178.1 366.2 177.8 L 370 177.2"/>
<path d="M 361.1 179.7 L 361.4 183.2 L 364.3 182.4"/>
<path d="M 364.3 180.4 L 358.6 224.9"/>
<path d="M 370 181.6 L 366.8 224.9"/>
<path d="M 364.3 180.4 L 370 179.5"/>
<g transform="translate(354.2 224.9) rotate(0) scale(1 1.210)"><circle r="7.8" fill="#fff" stroke-width="2.1"/><circle r="6.3" stroke-width="1"/><path d="M3.3 0L6.3 0M3 1.4L5.7 2.7M2.1 2.6L3.9 4.9M0.7 3.2L1.4 6.1M-0.7 3.2L-1.4 6.1M-2.1 2.6L-3.9 4.9M-3 1.4L-5.7 2.7M-3.3 0L-6.3 0M-3 -1.4L-5.7 -2.7M-2.1 -2.6L-3.9 -4.9M-0.7 -3.2L-1.4 -6.1M0.7 -3.2L1.4 -6.1M2.1 -2.6L3.9 -4.9M3 -1.4L5.7 -2.7" stroke-width="1.05"/><circle r="3.3" fill="#fff" stroke-width="1.2"/><circle r="1.3" stroke-width="1"/></g>
<!-- R7 -->
<rect x="425" y="510" width="100" height="75" fill="#fff" stroke="none"/>
<path d="M 433.9 510 L 433.9 535.9"/>
<path d="M 447.2 510 L 447.2 545.7"/>
<path d="M 433.9 511.9 L 447.2 515.7"/>
<path d="M 433.9 519.5 L 447.2 523.3"/>
<path d="M 433.9 527.7 L 447.2 531.5"/>
<path d="M 433.9 535.9 C 436.4 538.9 441.5 538.4 444.2 536.8"/>
<path d="M 464.2 510 L 464.2 550.5"/>
<path d="M 471.8 510 L 471.8 552.4"/>
<path d="M 464.2 550.5 L 471.8 552.4"/>
<path d="M 448.2 510 L 448.2 546.1"/>
<circle cx="429.8" cy="533.4" r="1.6" fill="#333"/>
<circle cx="450.9" cy="541" r="1.6" fill="#333"/>
<circle cx="489.6" cy="540.1" r="1.6" fill="#333"/>
<path d="M 425 543.5 L 446.8 537.2"/>
<path d="M 425 548 L 447.2 541.6"/>
<path d="M 425 551.1 L 432.6 549.2"/>
<path d="M 425 510 L 425.6 535.3"/>
<path d="M 425 551.8 L 431.3 550.5 L 432 560.6 L 425 562.5"/>
<circle cx="428.2" cy="556.8" r="2.2" fill="none"/>
<path d="M 446.8 546.1 L 455.4 549.2 M 471.8 552.4 L 500.9 562.9"/>
<path d="M 455.4 549.2 L 460.2 551.1"/>
<path stroke-width="2.2" d="M 432.6 549.9 L 497.8 572.7"/>
<path d="M 432.6 560.6 L 500.9 584.1"/>
<path d="M 437.7 549.5 L 500.9 571"/>
<path d="M 472.5 550.8 L 485.8 547 L 492.1 544.4"/>
<path d="M 485.8 547 L 502.8 553.3"/>
<path d="M 487 520.1 L 494.6 520.9 L 525 511.9"/>
<path d="M 487 520.1 L 487.7 525.2 L 495.3 525.9 L 525 516.6"/>
<path d="M 494.6 520.9 L 495.3 525.9"/>
<path d="M 487 520.1 L 518.7 510"/>
<path d="M 492.1 526.5 L 492.1 534.3 L 495.9 533"/>
<path d="M 499.1 525.8 L 504.1 572"/>
<path d="M 506 524.6 L 512.3 575.8"/>
<path d="M 515.5 521.4 L 520.9 577.1"/>
<circle cx="512.3" cy="526.5" r="2.2" fill="none"/>
<path stroke-width="0.9" d="M 507.9 529 L 513.6 574.6 M 509.2 527.7 L 515.1 575.2"/>
<path d="M 496.5 572.9 L 500.9 571"/>
<path d="M 497.2 573.5 L 519.3 581.1"/>
<path stroke-width="0.9" d="M 499.7 573.9 L 502.2 572 M 502.8 575.1 L 505.4 573.2 M 506 576.2 L 508.5 574.3 M 509.2 577.3 L 511.7 575.4 M 512.3 578.5 L 514.9 576.6 M 515.5 579.6 L 518 577.7 M 518.7 580.8 L 521.2 578.9 M 521.8 581.9 L 524.4 580"/>
<path d="M 518.7 554.3 L 525 556.3"/>
<path d="M 521.2 560.6 L 521.2 569.5"/>
<path d="M 520.6 571 L 525 572.3"/>
<path d="M 491.5 510 L 491.5 517.6 M 499.1 510 L 499.1 516.3 M 506 510 L 506 513.8"/>
<!-- R8 -->
<rect x="340" y="270" width="100" height="75" fill="#fff" stroke="none"/>
<path d="M 342.5 270 L 357.7 275.1 L 360.3 270"/>
<path d="M 362.2 273.8 L 359 311.8 L 355.2 344.9"/>
<path d="M 370.4 275.7 L 365.9 320"/>
<path d="M 377.3 279.5 L 373.5 317.1"/>
<path d="M 386.8 289 L 384.9 318.7"/>
<path d="M 392.5 299.4 L 391.9 320.9"/>
<path d="M 383 270 C 390.6 275.1 400.8 286.5 405.8 306.7"/>
<path d="M 370.4 275.7 C 378 278.9 390.6 289 394.7 308.6"/>
<path d="M 394.7 308.6 C 398.2 309.5 402.7 308.5 405.8 306.7"/>
<path d="M 394.7 308.6 L 398 344.9"/>
<path d="M 405.8 306.7 L 409.4 344.9"/>
<path d="M 399.5 309.5 L 401.5 343.4"/>
<circle cx="399.5" cy="275.1" r="1.6" fill="#333"/>
<path d="M 393.2 273.8 L 403.3 270"/>
<path fill="#222" d="M 410.9 270 L 428.6 270 L 428.6 274.4 L 415.9 275.7 Z"/>
<g transform="translate(425.1 279.5) rotate(0) scale(1 1.097)"><circle r="7.8" fill="#fff" stroke-width="2.1"/><circle r="6.3" stroke-width="1"/><path d="M3.3 0L6.3 0M3 1.4L5.7 2.7M2.1 2.6L3.9 4.9M0.7 3.2L1.4 6.1M-0.7 3.2L-1.4 6.1M-2.1 2.6L-3.9 4.9M-3 1.4L-5.7 2.7M-3.3 0L-6.3 0M-3 -1.4L-5.7 -2.7M-2.1 -2.6L-3.9 -4.9M-0.7 -3.2L-1.4 -6.1M0.7 -3.2L1.4 -6.1M2.1 -2.6L3.9 -4.9M3 -1.4L5.7 -2.7" stroke-width="1.05"/><circle r="3.3" fill="#fff" stroke-width="1.2"/><circle r="1.3" stroke-width="1"/></g>
<path d="M 415.9 286.5 L 409.4 323.2"/>
<path d="M 414.7 286.5 L 415.9 344.9"/>
<path d="M 417.5 287.7 L 417.7 344.9"/>
<path d="M 428.9 287.7 L 430.6 344.9"/>
<path d="M 433 270 L 433 344.9"/>
<path d="M 362.8 323.2 C 363.4 319.4 367.2 317.5 371.6 316.8 L 390.6 321.3 C 393.8 322.2 395.4 324.4 395.7 327.6 L 397 344.9"/>
<path d="M 365.3 325.7 C 365.9 322.2 368.5 320.6 371.6 320.4 L 388.7 324.4 C 391.9 325.4 393.8 327.6 393.8 330.8 L 394.4 344.9"/>
<path d="M 362.8 323.2 L 361.8 329.5"/>
<path d="M 340 311.8 C 352.7 319.4 365.3 330.8 376.7 344.9"/>
<path d="M 340 320 C 350.1 325.7 359 334.6 367.2 344.9"/>
<path d="M 359 335.8 L 357.1 344.9"/>
</svg>
<svg width="790" height="1192" viewBox="0 0 790 1192">
<text x="293.8" y="62.4" font-size="50" font-weight="bold" fill="#2e2e2e" stroke="#fff" stroke-width="0.8" letter-spacing="0.6">规格</text>
<text x="395.5" y="62.4" font-size="50" font-weight="bold" fill="#d11026" stroke="#fff" stroke-width="0.8" letter-spacing="0.8">参数</text>
<text x="229" y="109" font-size="24.5" fill="#ffffff" stroke="#d11026" stroke-width="0.5">长</text>
<text x="330.2" y="109" font-size="24.5" fill="#ffffff" stroke="#d11026" stroke-width="0.5">宽</text>
<text x="431.4" y="109" font-size="24.5" fill="#ffffff" stroke="#d11026" stroke-width="0.5">高</text>
<text x="254.2" y="109" font-size="26.5" fill="#ffffff" stroke="#d11026" stroke-width="0.5" letter-spacing="0.66">2790x</text>
<text x="355.4" y="109" font-size="26.5" fill="#ffffff" stroke="#d11026" stroke-width="0.5" letter-spacing="0.66">1741x</text>
<text x="456.6" y="109" font-size="26.5" fill="#ffffff" stroke="#d11026" stroke-width="0.5" letter-spacing="0.66">2020mm</text>
<text x="260" y="878.3" font-size="50" font-weight="bold" fill="#2e2e2e" stroke="#efefef" stroke-width="0.8" letter-spacing="0.6">产品</text>
<text x="363.5" y="878.3" font-size="50" font-weight="bold" fill="#d11026" stroke="#efefef" stroke-width="0.8" letter-spacing="0.8">参数表</text>
<text x="538.5" y="400.1" font-size="24" fill="#4a4a4a" stroke="#fff" stroke-width="0.5">高</text>
<text x="563.2" y="400.1" font-size="26.5" fill="#4a4a4a" stroke="#fff" stroke-width="0.6" letter-spacing="0.45">2020mm</text>
<text x="143.7" y="676.8" font-size="24.5" fill="#4a4a4a" stroke="#fff" stroke-width="0.5">宽</text>
<text x="169.2" y="676.8" font-size="26.5" fill="#4a4a4a" stroke="#fff" stroke-width="0.6" letter-spacing="0.6">1741mm</text>
<text x="434.5" y="682.8" font-size="24.5" fill="#4a4a4a" stroke="#fff" stroke-width="0.5">长</text>
<text x="459.7" y="682.8" font-size="26.5" fill="#4a4a4a" stroke="#fff" stroke-width="0.6" letter-spacing="0.6">2790mm</text>
<text x="24.6" y="955" font-size="20" fill="#ffffff" stroke="#404040" stroke-width="0.38" letter-spacing="0.5">产品名称</text>
<text x="24.6" y="990.9" font-size="20" fill="#ffffff" stroke="#404040" stroke-width="0.38" letter-spacing="0.5">产品尺寸</text>
<text x="24.6" y="1026.6" font-size="20" fill="#ffffff" stroke="#404040" stroke-width="0.38" letter-spacing="0.5">主箱尺寸</text>
<text x="24.6" y="1062.3" font-size="20" fill="#ffffff" stroke="#404040" stroke-width="0.38" letter-spacing="0.5">最大承重</text>
<text x="24.6" y="1098.2" font-size="20" fill="#ffffff" stroke="#404040" stroke-width="0.38" letter-spacing="0.5">使用功能</text>
<text x="184" y="955" font-size="20" fill="#282828" stroke="#d5d5d5" stroke-width="0.3" letter-spacing="0.55">综合训练器</text>
<text x="129.5" y="955" font-size="22" fill="#282828" stroke="#d5d5d5" stroke-width="0.3" letter-spacing="0.13">G116</text>
<text x="129.5" y="990.9" font-size="22" fill="#282828" stroke="#b7b7b7" stroke-width="0.3" letter-spacing="0.13">2790x1741x2020mm</text>
<text x="129.5" y="1026.6" font-size="22" fill="#282828" stroke="#d5d5d5" stroke-width="0.3" letter-spacing="0.13">1890</text>
<text x="179" y="1026.6" font-size="22" fill="#282828" stroke="#d5d5d5" stroke-width="0.3" letter-spacing="0.13">×</text>
<text x="191.9" y="1026.6" font-size="22" fill="#282828" stroke="#d5d5d5" stroke-width="0.3" letter-spacing="0.13">700</text>
<text x="229" y="1026.6" font-size="22" fill="#282828" stroke="#d5d5d5" stroke-width="0.3" letter-spacing="0.13">×</text>
<text x="242" y="1026.6" font-size="22" fill="#282828" stroke="#d5d5d5" stroke-width="0.3" letter-spacing="0.13">240mm</text>
<text x="129.5" y="1062.3" font-size="22" fill="#282828" stroke="#b7b7b7" stroke-width="0.3" letter-spacing="0.13">150kg</text>
<text x="381.3" y="955" font-size="20" fill="#ffffff" stroke="#404040" stroke-width="0.38" letter-spacing="0.6">净重</text>
<text x="422.4" y="955.1" font-size="22" fill="#ffffff" stroke="#404040" stroke-width="0.38">/</text>
<text x="429" y="955" font-size="20" fill="#ffffff" stroke="#404040" stroke-width="0.38" letter-spacing="0.5">毛重</text>
<text x="381.3" y="990.9" font-size="20" fill="#ffffff" stroke="#404040" stroke-width="0.38" letter-spacing="0.6">配重</text>
<text x="381.3" y="1026.6" font-size="20" fill="#ffffff" stroke="#404040" stroke-width="0.38" letter-spacing="0.6">管材</text>
<text x="381.3" y="1062.3" font-size="20" fill="#ffffff" stroke="#404040" stroke-width="0.38" letter-spacing="0.5">配重箱尺寸</text>
<text x="495" y="955" font-size="22" fill="#282828" stroke="#d5d5d5" stroke-width="0.3" letter-spacing="0.13">100KG/106KG</text>
<text x="552" y="990.9" font-size="20" fill="#282828" stroke="#b7b7b7" stroke-width="0.3" letter-spacing="0.6">水泥配重</text>
<text x="495" y="990.9" font-size="22" fill="#282828" stroke="#b7b7b7" stroke-width="0.3" letter-spacing="0.13">45KG</text>
<text x="495" y="1026.6" font-size="20" fill="#282828" stroke="#d5d5d5" stroke-width="0.3" letter-spacing="0.6">钢管</text>
<text x="495" y="1062.3" font-size="21.3" fill="#282828" stroke="#b7b7b7" stroke-width="0.3" letter-spacing="0.13">445</text>
<text x="530.9" y="1062.3" font-size="21.3" fill="#282828" stroke="#b7b7b7" stroke-width="0.3" letter-spacing="0.13">×</text>
<text x="543.5" y="1062.3" font-size="21.3" fill="#282828" stroke="#b7b7b7" stroke-width="0.3" letter-spacing="0.13">370</text>
<text x="579.4" y="1062.3" font-size="21.3" fill="#282828" stroke="#b7b7b7" stroke-width="0.3" letter-spacing="0.13">×</text>
<text x="592" y="1062.3" font-size="21.3" fill="#282828" stroke="#b7b7b7" stroke-width="0.3" letter-spacing="0.13">190mm</text>
<text x="130" y="1098.2" font-size="20" fill="#282828" stroke="#d5d5d5" stroke-width="0.3" letter-spacing="0.63">推举、高低啦、双杠、蝴蝶机、踢腿、仰卧起坐、有效锻炼胸部、</text>
<text x="130.3" y="1134.2" font-size="20" fill="#282828" stroke="#d5d5d5" stroke-width="0.3" letter-spacing="0.63">上肢、腰部、背部、腿部等各部位肌肉</text>
<text x="394.2" y="911" text-anchor="middle" font-size="24" letter-spacing="-1.04" fill="#5a5a5a" stroke="#efefef" stroke-width="0.9">SPECIFICATIONS</text>
</svg>
<div class="tx" style="left:294px;top:18px;width:102px;height:55px;font-size:35px">规格</div>
<div class="tx" style="left:396px;top:18px;width:102px;height:55px;font-size:35px">参数</div>
<div class="tx" style="left:228px;top:87px;width:335px;height:28px;font-size:18px">长2790x宽1741x高2020mm</div>
<div class="tx" style="left:260px;top:834px;width:102px;height:55px;font-size:35px">产品</div>
<div class="tx" style="left:364px;top:834px;width:154px;height:55px;font-size:35px">参数表</div>
<div class="tx" style="left:538px;top:379px;width:131px;height:27px;font-size:17px">高2020mm</div>
<div class="tx" style="left:144px;top:655px;width:132px;height:28px;font-size:18px">宽1741mm</div>
<div class="tx" style="left:434px;top:661px;width:132px;height:28px;font-size:18px">长2790mm</div>
</body></html>
